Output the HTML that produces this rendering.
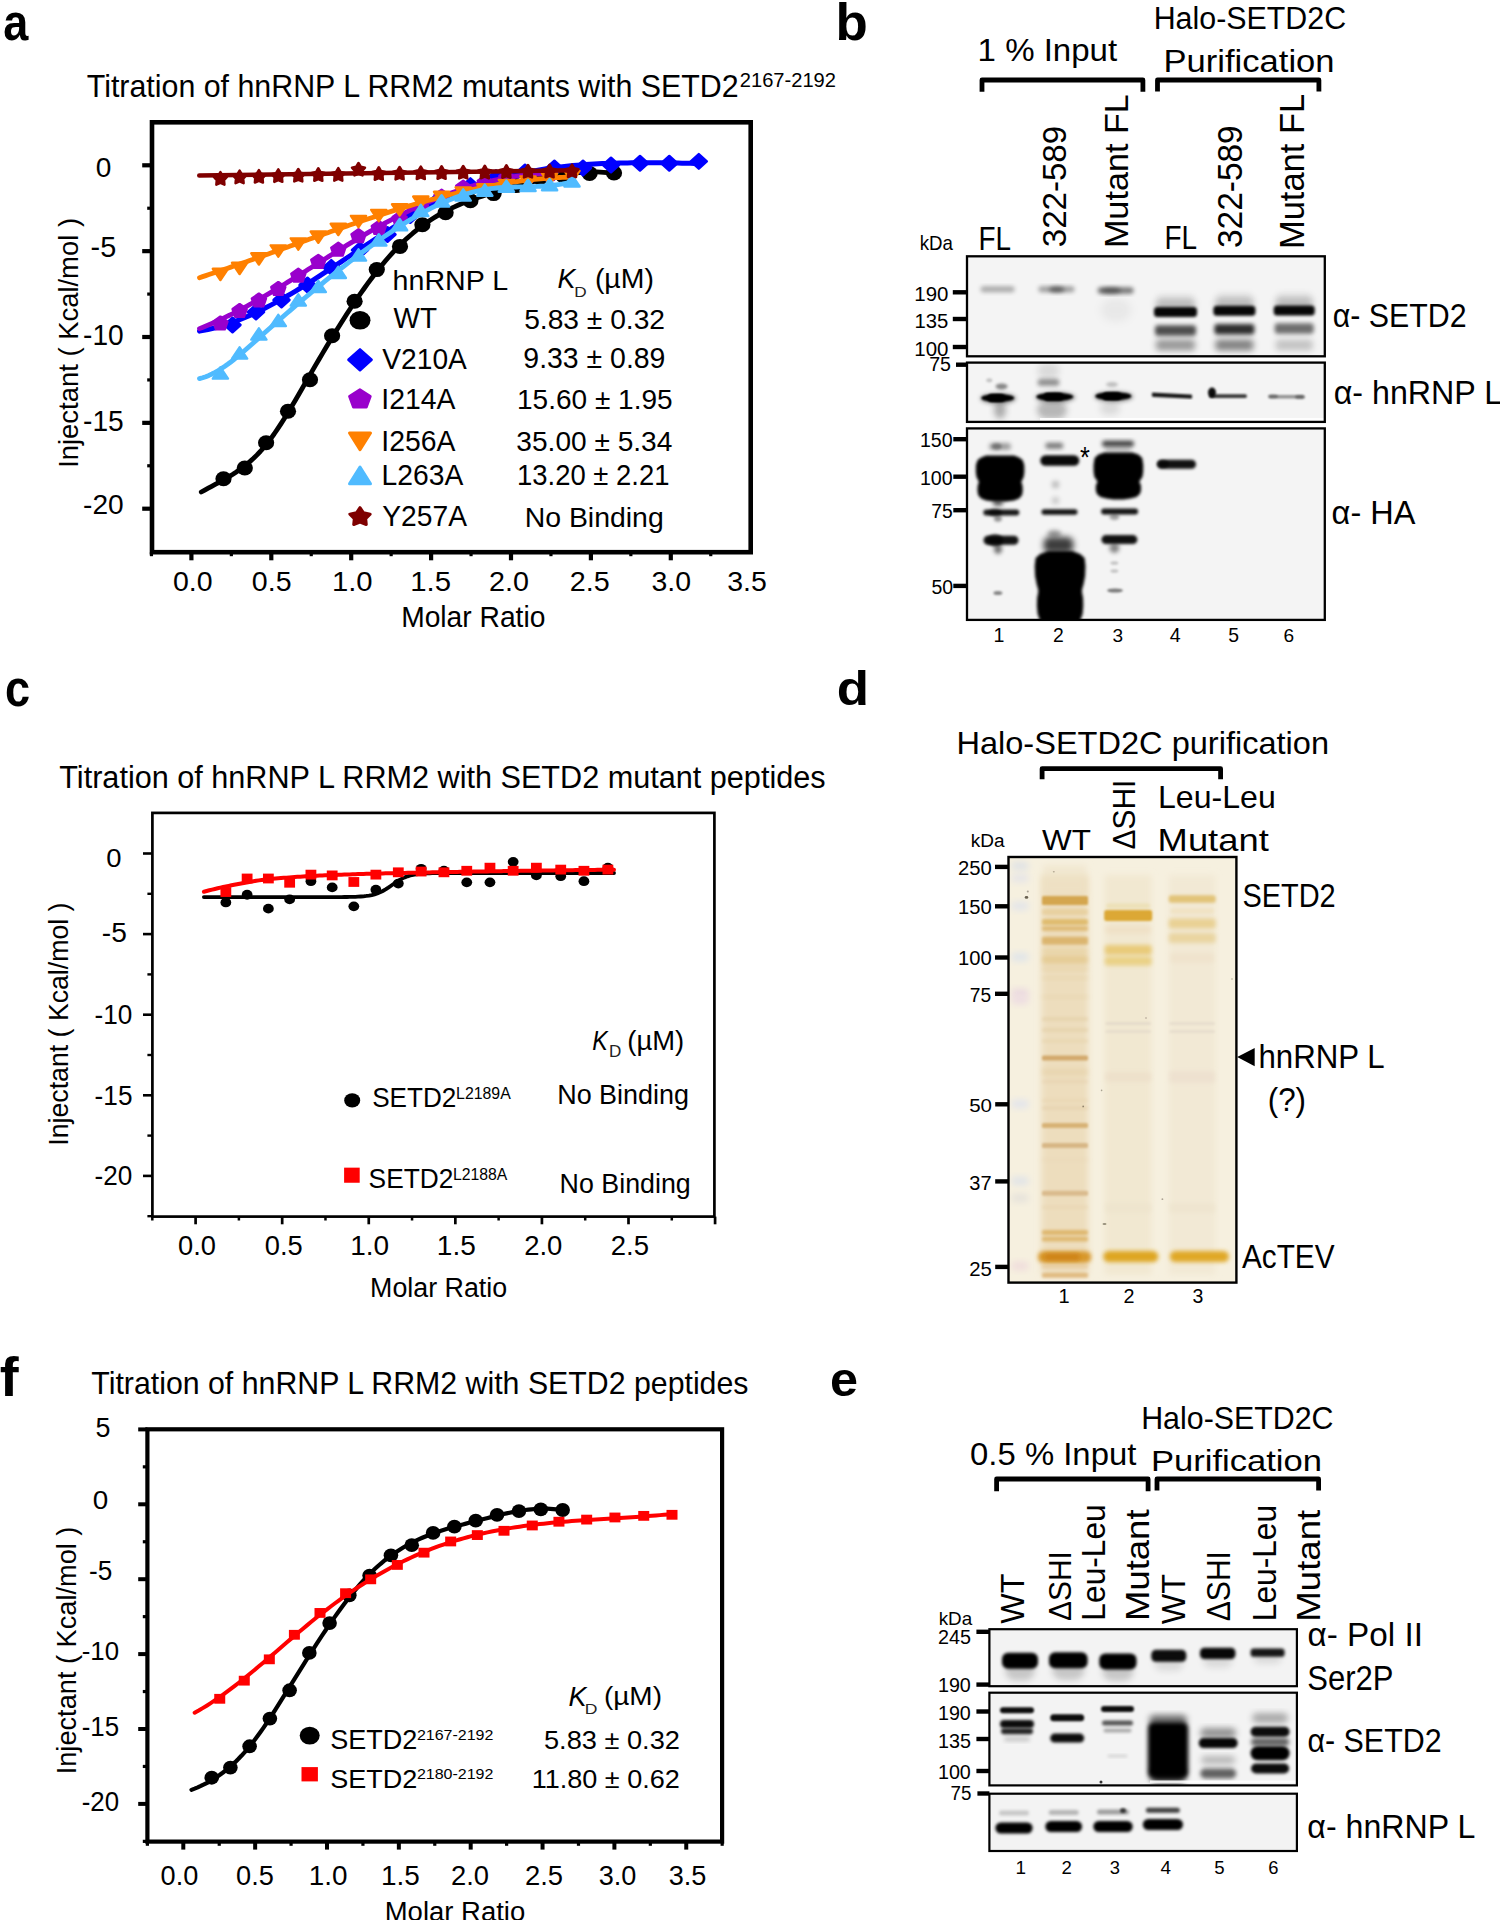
<!DOCTYPE html>
<html><head><meta charset="utf-8"><title>Figure</title>
<style>
html,body{margin:0;padding:0;background:#fff;width:1500px;height:1920px;overflow:hidden;}
svg{display:block;font-family:"Liberation Sans", sans-serif;}
</style></head><body>
<svg width="1500" height="1920" viewBox="0 0 1500 1920">
<defs>
<filter id="b05" x="-50%" y="-50%" width="200%" height="200%"><feGaussianBlur stdDeviation="0.5"/></filter>
<filter id="b1" x="-50%" y="-50%" width="200%" height="200%"><feGaussianBlur stdDeviation="1"/></filter>
<filter id="b15" x="-50%" y="-50%" width="200%" height="200%"><feGaussianBlur stdDeviation="1.5"/></filter>
<filter id="b2" x="-50%" y="-50%" width="200%" height="200%"><feGaussianBlur stdDeviation="2"/></filter>
<filter id="b3" x="-50%" y="-50%" width="200%" height="200%"><feGaussianBlur stdDeviation="3"/></filter>
<filter id="b4" x="-50%" y="-50%" width="200%" height="200%"><feGaussianBlur stdDeviation="4"/></filter>
<filter id="b6" x="-50%" y="-50%" width="200%" height="200%"><feGaussianBlur stdDeviation="6"/></filter>
<filter id="b8" x="-50%" y="-50%" width="200%" height="200%"><feGaussianBlur stdDeviation="8"/></filter>
</defs>
<rect x="0" y="0" width="1500" height="1920" fill="#fff"/>
<text x="3.15" y="40.28" font-size="51.69" font-weight="bold" textLength="25.07" lengthAdjust="spacingAndGlyphs">a</text>
<text x="86.72" y="96.8" font-size="31.71" textLength="651.95" lengthAdjust="spacingAndGlyphs">Titration of hnRNP L RRM2 mutants with SETD2</text>
<text x="739.79" y="86.5" font-size="20.35" textLength="96.16" lengthAdjust="spacingAndGlyphs">2167-2192</text>
<rect x="152" y="122.3" width="598.7" height="429.9" fill="none" stroke="#000" stroke-width="4.6"/>
<line x1="142.2" y1="165.3" x2="152" y2="165.3" stroke="#000" stroke-width="4.2" stroke-linecap="butt"/>
<line x1="142.2" y1="251.15" x2="152" y2="251.15" stroke="#000" stroke-width="4.2" stroke-linecap="butt"/>
<line x1="142.2" y1="337" x2="152" y2="337" stroke="#000" stroke-width="4.2" stroke-linecap="butt"/>
<line x1="142.2" y1="422.85" x2="152" y2="422.85" stroke="#000" stroke-width="4.2" stroke-linecap="butt"/>
<line x1="142.2" y1="508.7" x2="152" y2="508.7" stroke="#000" stroke-width="4.2" stroke-linecap="butt"/>
<line x1="147.2" y1="208.23" x2="152" y2="208.23" stroke="#000" stroke-width="3.2" stroke-linecap="butt"/>
<line x1="147.2" y1="294.08" x2="152" y2="294.08" stroke="#000" stroke-width="3.2" stroke-linecap="butt"/>
<line x1="147.2" y1="379.93" x2="152" y2="379.93" stroke="#000" stroke-width="3.2" stroke-linecap="butt"/>
<line x1="147.2" y1="465.78" x2="152" y2="465.78" stroke="#000" stroke-width="3.2" stroke-linecap="butt"/>
<text x="95.78" y="177.22" font-size="28.27" textLength="15.61" lengthAdjust="spacingAndGlyphs">0</text>
<text x="90.6" y="256.61" font-size="28.67" textLength="25.6" lengthAdjust="spacingAndGlyphs">-5</text>
<text x="83.04" y="345.41" font-size="29.4" textLength="40.63" lengthAdjust="spacingAndGlyphs">-10</text>
<text x="83.03" y="430.71" font-size="28.96" textLength="40.7" lengthAdjust="spacingAndGlyphs">-15</text>
<text x="83.04" y="513.81" font-size="28.55" textLength="40.63" lengthAdjust="spacingAndGlyphs">-20</text>
<line x1="191.4" y1="552.2" x2="191.4" y2="560.3" stroke="#000" stroke-width="4.2" stroke-linecap="butt"/>
<line x1="271.3" y1="552.2" x2="271.3" y2="560.3" stroke="#000" stroke-width="4.2" stroke-linecap="butt"/>
<line x1="351.2" y1="552.2" x2="351.2" y2="560.3" stroke="#000" stroke-width="4.2" stroke-linecap="butt"/>
<line x1="431.1" y1="552.2" x2="431.1" y2="560.3" stroke="#000" stroke-width="4.2" stroke-linecap="butt"/>
<line x1="511" y1="552.2" x2="511" y2="560.3" stroke="#000" stroke-width="4.2" stroke-linecap="butt"/>
<line x1="590.9" y1="552.2" x2="590.9" y2="560.3" stroke="#000" stroke-width="4.2" stroke-linecap="butt"/>
<line x1="670.8" y1="552.2" x2="670.8" y2="560.3" stroke="#000" stroke-width="4.2" stroke-linecap="butt"/>
<line x1="151.45" y1="552.2" x2="151.45" y2="556.2" stroke="#000" stroke-width="3.2" stroke-linecap="butt"/>
<line x1="231.35" y1="552.2" x2="231.35" y2="556.2" stroke="#000" stroke-width="3.2" stroke-linecap="butt"/>
<line x1="311.25" y1="552.2" x2="311.25" y2="556.2" stroke="#000" stroke-width="3.2" stroke-linecap="butt"/>
<line x1="391.15" y1="552.2" x2="391.15" y2="556.2" stroke="#000" stroke-width="3.2" stroke-linecap="butt"/>
<line x1="471.05" y1="552.2" x2="471.05" y2="556.2" stroke="#000" stroke-width="3.2" stroke-linecap="butt"/>
<line x1="550.95" y1="552.2" x2="550.95" y2="556.2" stroke="#000" stroke-width="3.2" stroke-linecap="butt"/>
<line x1="630.85" y1="552.2" x2="630.85" y2="556.2" stroke="#000" stroke-width="3.2" stroke-linecap="butt"/>
<line x1="710.75" y1="552.2" x2="710.75" y2="556.2" stroke="#000" stroke-width="3.2" stroke-linecap="butt"/>
<text x="172.96" y="591.12" font-size="27.56" textLength="39.61" lengthAdjust="spacingAndGlyphs">0.0</text>
<text x="251.86" y="591.12" font-size="27.56" textLength="39.69" lengthAdjust="spacingAndGlyphs">0.5</text>
<text x="331.9" y="591.12" font-size="27.56" textLength="40.7" lengthAdjust="spacingAndGlyphs">1.0</text>
<text x="410.3" y="591.12" font-size="27.96" textLength="40.78" lengthAdjust="spacingAndGlyphs">1.5</text>
<text x="489.06" y="591.12" font-size="27.56" textLength="39.92" lengthAdjust="spacingAndGlyphs">2.0</text>
<text x="569.86" y="591.12" font-size="27.56" textLength="39.99" lengthAdjust="spacingAndGlyphs">2.5</text>
<text x="651.53" y="591.12" font-size="27.56" textLength="39.54" lengthAdjust="spacingAndGlyphs">3.0</text>
<text x="727.23" y="591.12" font-size="27.56" textLength="39.61" lengthAdjust="spacingAndGlyphs">3.5</text>
<text x="401.17" y="626.5" font-size="29.53" textLength="144.27" lengthAdjust="spacingAndGlyphs">Molar Ratio</text>
<text x="77.67" y="467.84" font-size="28.1" textLength="249.87" lengthAdjust="spacingAndGlyphs" transform="rotate(-90 77.67 467.84)">Injectant ( Kcal/mol )</text>
<path d="M201.3 491.99 L204.77 490.04 L208.24 488.14 L211.7 486.27 L215.17 484.41 L218.64 482.53 L222.11 480.62 L225.58 478.65 L229.04 476.61 L232.51 474.47 L235.98 472.22 L239.45 469.83 L242.92 467.28 L246.38 464.55 L249.85 461.63 L253.32 458.49 L256.79 455.11 L260.26 451.47 L263.73 447.55 L267.19 443.33 L270.66 438.81 L274.13 434.01 L277.6 428.96 L281.07 423.69 L284.53 418.22 L288 412.59 L291.47 406.82 L294.94 400.94 L298.41 394.98 L301.87 388.96 L305.34 382.92 L308.81 376.88 L312.28 370.87 L315.75 364.9 L319.21 358.97 L322.68 353.1 L326.15 347.28 L329.62 341.52 L333.09 335.83 L336.55 330.2 L340.02 324.65 L343.49 319.18 L346.96 313.79 L350.43 308.49 L353.89 303.28 L357.36 298.17 L360.83 293.16 L364.3 288.26 L367.77 283.46 L371.24 278.79 L374.7 274.23 L378.17 269.79 L381.64 265.49 L385.11 261.31 L388.58 257.28 L392.04 253.39 L395.51 249.65 L398.98 246.05 L402.45 242.62 L405.92 239.33 L409.38 236.2 L412.85 233.21 L416.32 230.36 L419.79 227.65 L423.26 225.06 L426.72 222.6 L430.19 220.26 L433.66 218.04 L437.13 215.92 L440.6 213.91 L444.06 212 L447.53 210.18 L451 208.46 L454.47 206.82 L457.94 205.26 L461.41 203.78 L464.87 202.36 L468.34 201.01 L471.81 199.73 L475.28 198.49 L478.75 197.31 L482.21 196.18 L485.68 195.08 L489.15 194.03 L492.62 193 L496.09 192 L499.55 191.02 L503.02 190.06 L506.49 189.1 L509.96 188.16 L513.43 187.22 L516.89 186.27 L520.36 185.32 L523.83 184.36 L527.3 183.41 L530.77 182.47 L534.23 181.54 L537.7 180.62 L541.17 179.73 L544.64 178.86 L548.11 178.02 L551.57 177.22 L555.04 176.46 L558.51 175.73 L561.98 175.06 L565.45 174.44 L568.92 173.87 L572.38 173.37 L575.85 172.93 L579.32 172.56 L582.79 172.27 L586.26 172.05 L589.72 171.92 L593.19 171.88 L596.66 171.93 L600.13 172.07 L603.6 172.32 L607.06 172.67 L610.53 173.14 L614 173.72" fill="none" stroke="#000000" stroke-width="4.8" stroke-linejoin="round" stroke-linecap="round"/>
<ellipse cx="223.5" cy="478.7" rx="8.1" ry="7.5" fill="#000000"/>
<ellipse cx="244.8" cy="468" rx="8.1" ry="7.5" fill="#000000"/>
<ellipse cx="266.1" cy="442.7" rx="8.1" ry="7.5" fill="#000000"/>
<ellipse cx="288" cy="411.2" rx="8.1" ry="7.5" fill="#000000"/>
<ellipse cx="310" cy="379.7" rx="8.1" ry="7.5" fill="#000000"/>
<ellipse cx="332.1" cy="335.8" rx="8.1" ry="7.5" fill="#000000"/>
<ellipse cx="354.6" cy="301.2" rx="8.1" ry="7.5" fill="#000000"/>
<ellipse cx="376.8" cy="269.6" rx="8.1" ry="7.5" fill="#000000"/>
<ellipse cx="400" cy="246.4" rx="8.1" ry="7.5" fill="#000000"/>
<ellipse cx="422.4" cy="224.8" rx="8.1" ry="7.5" fill="#000000"/>
<ellipse cx="445.6" cy="212.8" rx="8.1" ry="7.5" fill="#000000"/>
<ellipse cx="470.4" cy="200.8" rx="8.1" ry="7.5" fill="#000000"/>
<ellipse cx="493.6" cy="193.6" rx="8.1" ry="7.5" fill="#000000"/>
<ellipse cx="516" cy="185.6" rx="8.1" ry="7.5" fill="#000000"/>
<ellipse cx="540" cy="177.6" rx="8.1" ry="7.5" fill="#000000"/>
<ellipse cx="563.2" cy="175.6" rx="8.1" ry="7.5" fill="#000000"/>
<ellipse cx="589.6" cy="173.5" rx="8.1" ry="7.5" fill="#000000"/>
<ellipse cx="614" cy="173" rx="8.1" ry="7.5" fill="#000000"/>
<path d="M199.5 331.1 L203.7 330.37 L207.89 329.51 L212.09 328.55 L216.28 327.48 L220.48 326.3 L224.67 325.02 L228.87 323.64 L233.07 322.16 L237.26 320.6 L241.46 318.94 L245.65 317.2 L249.85 315.37 L254.05 313.47 L258.24 311.49 L262.44 309.43 L266.63 307.31 L270.83 305.12 L275.02 302.87 L279.22 300.56 L283.42 298.2 L287.61 295.78 L291.81 293.31 L296 290.8 L300.2 288.25 L304.39 285.65 L308.59 283.02 L312.79 280.36 L316.98 277.66 L321.18 274.94 L325.37 272.2 L329.57 269.44 L333.77 266.66 L337.96 263.87 L342.16 261.07 L346.35 258.27 L350.55 255.46 L354.74 252.65 L358.94 249.84 L363.14 247.05 L367.33 244.26 L371.53 241.49 L375.72 238.73 L379.92 235.99 L384.12 233.28 L388.31 230.6 L392.51 227.94 L396.7 225.32 L400.9 222.73 L405.09 220.19 L409.29 217.69 L413.49 215.24 L417.68 212.83 L421.88 210.48 L426.07 208.19 L430.27 205.95 L434.46 203.79 L438.66 201.68 L442.86 199.65 L447.05 197.69 L451.25 195.79 L455.44 193.97 L459.64 192.21 L463.84 190.51 L468.03 188.89 L472.23 187.32 L476.42 185.82 L480.62 184.37 L484.81 182.99 L489.01 181.66 L493.21 180.4 L497.4 179.18 L501.6 178.03 L505.79 176.92 L509.99 175.87 L514.18 174.87 L518.38 173.92 L522.58 173.02 L526.77 172.17 L530.97 171.36 L535.16 170.6 L539.36 169.88 L543.56 169.21 L547.75 168.57 L551.95 167.98 L556.14 167.43 L560.34 166.91 L564.53 166.44 L568.73 165.99 L572.93 165.59 L577.12 165.21 L581.32 164.87 L585.51 164.56 L589.71 164.27 L593.91 164.02 L598.1 163.79 L602.3 163.59 L606.49 163.42 L610.69 163.27 L614.88 163.14 L619.08 163.03 L623.28 162.95 L627.47 162.88 L631.67 162.83 L635.86 162.79 L640.06 162.78 L644.25 162.77 L648.45 162.78 L652.65 162.8 L656.84 162.83 L661.04 162.87 L665.23 162.92 L669.43 162.98 L673.63 163.04 L677.82 163.11 L682.02 163.18 L686.21 163.25 L690.41 163.32 L694.6 163.4 L698.8 163.47" fill="none" stroke="#0000ff" stroke-width="5" stroke-linejoin="round" stroke-linecap="round"/>
<path d="M232.5 317.75 L240.5 325 L232.5 332.25 L224.5 325 Z" fill="#0000ff" stroke="#0000ff" stroke-width="2.5" stroke-linejoin="round"/>
<path d="M256 304.75 L264 312 L256 319.25 L248 312 Z" fill="#0000ff" stroke="#0000ff" stroke-width="2.5" stroke-linejoin="round"/>
<path d="M281.5 292.75 L289.5 300 L281.5 307.25 L273.5 300 Z" fill="#0000ff" stroke="#0000ff" stroke-width="2.5" stroke-linejoin="round"/>
<path d="M307.5 277.75 L315.5 285 L307.5 292.25 L299.5 285 Z" fill="#0000ff" stroke="#0000ff" stroke-width="2.5" stroke-linejoin="round"/>
<path d="M331.3 260.15 L339.3 267.4 L331.3 274.65 L323.3 267.4 Z" fill="#0000ff" stroke="#0000ff" stroke-width="2.5" stroke-linejoin="round"/>
<path d="M360 242.75 L368 250 L360 257.25 L352 250 Z" fill="#0000ff" stroke="#0000ff" stroke-width="2.5" stroke-linejoin="round"/>
<path d="M387.5 227.25 L395.5 234.5 L387.5 241.75 L379.5 234.5 Z" fill="#0000ff" stroke="#0000ff" stroke-width="2.5" stroke-linejoin="round"/>
<path d="M410.3 208.25 L418.3 215.5 L410.3 222.75 L402.3 215.5 Z" fill="#0000ff" stroke="#0000ff" stroke-width="2.5" stroke-linejoin="round"/>
<path d="M440 191.25 L448 198.5 L440 205.75 L432 198.5 Z" fill="#0000ff" stroke="#0000ff" stroke-width="2.5" stroke-linejoin="round"/>
<path d="M470.4 178.35 L478.4 185.6 L470.4 192.85 L462.4 185.6 Z" fill="#0000ff" stroke="#0000ff" stroke-width="2.5" stroke-linejoin="round"/>
<path d="M496 170.35 L504 177.6 L496 184.85 L488 177.6 Z" fill="#0000ff" stroke="#0000ff" stroke-width="2.5" stroke-linejoin="round"/>
<path d="M525 164.75 L533 172 L525 179.25 L517 172 Z" fill="#0000ff" stroke="#0000ff" stroke-width="2.5" stroke-linejoin="round"/>
<path d="M554.4 160.75 L562.4 168 L554.4 175.25 L546.4 168 Z" fill="#0000ff" stroke="#0000ff" stroke-width="2.5" stroke-linejoin="round"/>
<path d="M583 160.75 L591 168 L583 175.25 L575 168 Z" fill="#0000ff" stroke="#0000ff" stroke-width="2.5" stroke-linejoin="round"/>
<path d="M611 157.75 L619 165 L611 172.25 L603 165 Z" fill="#0000ff" stroke="#0000ff" stroke-width="2.5" stroke-linejoin="round"/>
<path d="M640 156.05 L648 163.3 L640 170.55 L632 163.3 Z" fill="#0000ff" stroke="#0000ff" stroke-width="2.5" stroke-linejoin="round"/>
<path d="M669.3 156.05 L677.3 163.3 L669.3 170.55 L661.3 163.3 Z" fill="#0000ff" stroke="#0000ff" stroke-width="2.5" stroke-linejoin="round"/>
<path d="M698.8 154.15 L706.8 161.4 L698.8 168.65 L690.8 161.4 Z" fill="#0000ff" stroke="#0000ff" stroke-width="2.5" stroke-linejoin="round"/>
<path d="M199.5 328.61 L202.44 327.45 L205.38 326.25 L208.33 325.01 L211.27 323.75 L214.21 322.45 L217.15 321.12 L220.09 319.76 L223.04 318.37 L225.98 316.95 L228.92 315.5 L231.86 314.03 L234.8 312.53 L237.75 311 L240.69 309.45 L243.63 307.88 L246.57 306.29 L249.51 304.67 L252.46 303.04 L255.4 301.38 L258.34 299.71 L261.28 298.02 L264.22 296.31 L267.17 294.59 L270.11 292.85 L273.05 291.09 L275.99 289.33 L278.93 287.55 L281.88 285.76 L284.82 283.96 L287.76 282.15 L290.7 280.34 L293.64 278.51 L296.59 276.68 L299.53 274.84 L302.47 273 L305.41 271.16 L308.35 269.31 L311.3 267.46 L314.24 265.6 L317.18 263.75 L320.12 261.9 L323.06 260.05 L326.01 258.2 L328.95 256.36 L331.89 254.52 L334.83 252.69 L337.77 250.86 L340.72 249.04 L343.66 247.22 L346.6 245.42 L349.54 243.63 L352.48 241.84 L355.43 240.07 L358.37 238.31 L361.31 236.57 L364.25 234.83 L367.19 233.12 L370.14 231.42 L373.08 229.74 L376.02 228.07 L378.96 226.43 L381.91 224.8 L384.85 223.19 L387.79 221.61 L390.73 220.05 L393.67 218.5 L396.62 216.98 L399.56 215.48 L402.5 214 L405.44 212.54 L408.38 211.11 L411.33 209.7 L414.27 208.31 L417.21 206.94 L420.15 205.6 L423.09 204.28 L426.04 202.98 L428.98 201.71 L431.92 200.46 L434.86 199.24 L437.8 198.04 L440.75 196.87 L443.69 195.72 L446.63 194.6 L449.57 193.51 L452.51 192.44 L455.46 191.4 L458.4 190.38 L461.34 189.39 L464.28 188.43 L467.22 187.5 L470.17 186.59 L473.11 185.72 L476.05 184.87 L478.99 184.05 L481.93 183.25 L484.88 182.49 L487.82 181.76 L490.76 181.06 L493.7 180.38 L496.64 179.74 L499.59 179.13 L502.53 178.55 L505.47 178 L508.41 177.48 L511.35 176.99 L514.3 176.53 L517.24 176.11 L520.18 175.72 L523.12 175.36 L526.06 175.03 L529.01 174.74 L531.95 174.48 L534.89 174.25 L537.83 174.06 L540.77 173.91 L543.72 173.78 L546.66 173.69 L549.6 173.64" fill="none" stroke="#9900cc" stroke-width="4.8" stroke-linejoin="round" stroke-linecap="round"/>
<path d="M220.4 316.65 L227.4 321.5 L224.73 329.35 L216.07 329.35 L213.4 321.5 Z" fill="#9900cc" stroke="#9900cc" stroke-width="2.5" stroke-linejoin="round"/>
<path d="M239.6 304.15 L246.6 309 L243.93 316.85 L235.27 316.85 L232.6 309 Z" fill="#9900cc" stroke="#9900cc" stroke-width="2.5" stroke-linejoin="round"/>
<path d="M258.9 293.65 L265.9 298.5 L263.23 306.35 L254.57 306.35 L251.9 298.5 Z" fill="#9900cc" stroke="#9900cc" stroke-width="2.5" stroke-linejoin="round"/>
<path d="M278.3 282.15 L285.3 287 L282.63 294.85 L273.97 294.85 L271.3 287 Z" fill="#9900cc" stroke="#9900cc" stroke-width="2.5" stroke-linejoin="round"/>
<path d="M298.3 268.85 L305.3 273.7 L302.63 281.55 L293.97 281.55 L291.3 273.7 Z" fill="#9900cc" stroke="#9900cc" stroke-width="2.5" stroke-linejoin="round"/>
<path d="M318.3 254.95 L325.3 259.8 L322.63 267.65 L313.97 267.65 L311.3 259.8 Z" fill="#9900cc" stroke="#9900cc" stroke-width="2.5" stroke-linejoin="round"/>
<path d="M338.3 242.85 L345.3 247.7 L342.63 255.55 L333.97 255.55 L331.3 247.7 Z" fill="#9900cc" stroke="#9900cc" stroke-width="2.5" stroke-linejoin="round"/>
<path d="M358.5 229.35 L365.5 234.2 L362.83 242.05 L354.17 242.05 L351.5 234.2 Z" fill="#9900cc" stroke="#9900cc" stroke-width="2.5" stroke-linejoin="round"/>
<path d="M378.8 221.15 L385.8 226 L383.13 233.85 L374.47 233.85 L371.8 226 Z" fill="#9900cc" stroke="#9900cc" stroke-width="2.5" stroke-linejoin="round"/>
<path d="M399.6 212.15 L406.6 217 L403.93 224.85 L395.27 224.85 L392.6 217 Z" fill="#9900cc" stroke="#9900cc" stroke-width="2.5" stroke-linejoin="round"/>
<path d="M420.8 200.65 L427.8 205.5 L425.13 213.35 L416.47 213.35 L413.8 205.5 Z" fill="#9900cc" stroke="#9900cc" stroke-width="2.5" stroke-linejoin="round"/>
<path d="M441.6 189.85 L448.6 194.7 L445.93 202.55 L437.27 202.55 L434.6 194.7 Z" fill="#9900cc" stroke="#9900cc" stroke-width="2.5" stroke-linejoin="round"/>
<path d="M463.2 180.85 L470.2 185.7 L467.53 193.55 L458.87 193.55 L456.2 185.7 Z" fill="#9900cc" stroke="#9900cc" stroke-width="2.5" stroke-linejoin="round"/>
<path d="M484.8 176.05 L491.8 180.9 L489.13 188.75 L480.47 188.75 L477.8 180.9 Z" fill="#9900cc" stroke="#9900cc" stroke-width="2.5" stroke-linejoin="round"/>
<path d="M506.4 171.25 L513.4 176.1 L510.73 183.95 L502.07 183.95 L499.4 176.1 Z" fill="#9900cc" stroke="#9900cc" stroke-width="2.5" stroke-linejoin="round"/>
<path d="M528 168.85 L535 173.7 L532.33 181.55 L523.67 181.55 L521 173.7 Z" fill="#9900cc" stroke="#9900cc" stroke-width="2.5" stroke-linejoin="round"/>
<path d="M549.6 167.25 L556.6 172.1 L553.93 179.95 L545.27 179.95 L542.6 172.1 Z" fill="#9900cc" stroke="#9900cc" stroke-width="2.5" stroke-linejoin="round"/>
<path d="M199.5 277.67 L202.63 276.64 L205.76 275.61 L208.89 274.57 L212.02 273.52 L215.15 272.47 L218.28 271.41 L221.41 270.35 L224.54 269.28 L227.67 268.21 L230.8 267.13 L233.93 266.04 L237.06 264.96 L240.19 263.86 L243.32 262.77 L246.45 261.67 L249.58 260.57 L252.71 259.46 L255.84 258.35 L258.97 257.24 L262.11 256.13 L265.24 255.01 L268.37 253.89 L271.5 252.77 L274.63 251.65 L277.76 250.53 L280.89 249.41 L284.02 248.29 L287.15 247.17 L290.28 246.04 L293.41 244.92 L296.54 243.8 L299.67 242.68 L302.8 241.56 L305.93 240.44 L309.06 239.32 L312.19 238.2 L315.32 237.09 L318.45 235.98 L321.58 234.87 L324.71 233.76 L327.84 232.66 L330.97 231.56 L334.1 230.47 L337.23 229.37 L340.36 228.29 L343.49 227.2 L346.62 226.12 L349.75 225.05 L352.88 223.98 L356.01 222.91 L359.14 221.86 L362.27 220.8 L365.4 219.76 L368.53 218.72 L371.66 217.68 L374.79 216.66 L377.92 215.64 L381.05 214.63 L384.18 213.62 L387.32 212.63 L390.45 211.64 L393.58 210.66 L396.71 209.69 L399.84 208.73 L402.97 207.77 L406.1 206.83 L409.23 205.9 L412.36 204.97 L415.49 204.06 L418.62 203.16 L421.75 202.26 L424.88 201.38 L428.01 200.51 L431.14 199.65 L434.27 198.81 L437.4 197.97 L440.53 197.15 L443.66 196.34 L446.79 195.54 L449.92 194.76 L453.05 193.99 L456.18 193.23 L459.31 192.49 L462.44 191.76 L465.57 191.04 L468.7 190.34 L471.83 189.65 L474.96 188.98 L478.09 188.33 L481.22 187.69 L484.35 187.06 L487.48 186.45 L490.61 185.86 L493.74 185.29 L496.87 184.73 L500 184.19 L503.13 183.66 L506.26 183.16 L509.39 182.67 L512.53 182.2 L515.66 181.75 L518.79 181.32 L521.92 180.9 L525.05 180.51 L528.18 180.13 L531.31 179.77 L534.44 179.44 L537.57 179.12 L540.7 178.83 L543.83 178.55 L546.96 178.3 L550.09 178.07 L553.22 177.85 L556.35 177.66 L559.48 177.5 L562.61 177.35 L565.74 177.23 L568.87 177.13 L572 177.05" fill="none" stroke="#ff8000" stroke-width="4.8" stroke-linejoin="round" stroke-linecap="round"/>
<path d="M212.85 268.8 L227.95 268.8 L220.4 280 Z" fill="#ff8000" stroke="#ff8000" stroke-width="2.5" stroke-linejoin="round"/>
<path d="M232.05 262.8 L247.15 262.8 L239.6 274 Z" fill="#ff8000" stroke="#ff8000" stroke-width="2.5" stroke-linejoin="round"/>
<path d="M251.35 253.3 L266.45 253.3 L258.9 264.5 Z" fill="#ff8000" stroke="#ff8000" stroke-width="2.5" stroke-linejoin="round"/>
<path d="M270.75 245.4 L285.85 245.4 L278.3 256.6 Z" fill="#ff8000" stroke="#ff8000" stroke-width="2.5" stroke-linejoin="round"/>
<path d="M290.75 238.4 L305.85 238.4 L298.3 249.6 Z" fill="#ff8000" stroke="#ff8000" stroke-width="2.5" stroke-linejoin="round"/>
<path d="M310.75 231.6 L325.85 231.6 L318.3 242.8 Z" fill="#ff8000" stroke="#ff8000" stroke-width="2.5" stroke-linejoin="round"/>
<path d="M330.75 223.8 L345.85 223.8 L338.3 235 Z" fill="#ff8000" stroke="#ff8000" stroke-width="2.5" stroke-linejoin="round"/>
<path d="M350.95 215.9 L366.05 215.9 L358.5 227.1 Z" fill="#ff8000" stroke="#ff8000" stroke-width="2.5" stroke-linejoin="round"/>
<path d="M371.25 209.9 L386.35 209.9 L378.8 221.1 Z" fill="#ff8000" stroke="#ff8000" stroke-width="2.5" stroke-linejoin="round"/>
<path d="M392.05 204.2 L407.15 204.2 L399.6 215.4 Z" fill="#ff8000" stroke="#ff8000" stroke-width="2.5" stroke-linejoin="round"/>
<path d="M413.25 196.6 L428.35 196.6 L420.8 207.8 Z" fill="#ff8000" stroke="#ff8000" stroke-width="2.5" stroke-linejoin="round"/>
<path d="M434.05 191.7 L449.15 191.7 L441.6 202.9 Z" fill="#ff8000" stroke="#ff8000" stroke-width="2.5" stroke-linejoin="round"/>
<path d="M455.65 187.4 L470.75 187.4 L463.2 198.6 Z" fill="#ff8000" stroke="#ff8000" stroke-width="2.5" stroke-linejoin="round"/>
<path d="M477.25 184.2 L492.35 184.2 L484.8 195.4 Z" fill="#ff8000" stroke="#ff8000" stroke-width="2.5" stroke-linejoin="round"/>
<path d="M498.85 179.9 L513.95 179.9 L506.4 191.1 Z" fill="#ff8000" stroke="#ff8000" stroke-width="2.5" stroke-linejoin="round"/>
<path d="M520.45 176.4 L535.55 176.4 L528 187.6 Z" fill="#ff8000" stroke="#ff8000" stroke-width="2.5" stroke-linejoin="round"/>
<path d="M542.05 173.4 L557.15 173.4 L549.6 184.6 Z" fill="#ff8000" stroke="#ff8000" stroke-width="2.5" stroke-linejoin="round"/>
<path d="M564.45 170.9 L579.55 170.9 L572 182.1 Z" fill="#ff8000" stroke="#ff8000" stroke-width="2.5" stroke-linejoin="round"/>
<path d="M199.5 378.58 L202.63 377.74 L205.76 376.68 L208.89 375.42 L212.02 373.97 L215.15 372.34 L218.28 370.55 L221.41 368.6 L224.54 366.51 L227.67 364.29 L230.8 361.96 L233.93 359.53 L237.06 357 L240.19 354.4 L243.32 351.73 L246.45 349.01 L249.58 346.25 L252.71 343.46 L255.84 340.65 L258.97 337.85 L262.11 335.05 L265.24 332.26 L268.37 329.48 L271.5 326.71 L274.63 323.95 L277.76 321.21 L280.89 318.47 L284.02 315.75 L287.15 313.03 L290.28 310.33 L293.41 307.64 L296.54 304.96 L299.67 302.3 L302.8 299.65 L305.93 297.01 L309.06 294.38 L312.19 291.77 L315.32 289.18 L318.45 286.59 L321.58 284.03 L324.71 281.48 L327.84 278.94 L330.97 276.43 L334.1 273.93 L337.23 271.45 L340.36 268.98 L343.49 266.54 L346.62 264.11 L349.75 261.7 L352.88 259.32 L356.01 256.95 L359.14 254.6 L362.27 252.28 L365.4 249.98 L368.53 247.7 L371.66 245.44 L374.79 243.2 L377.92 240.99 L381.05 238.8 L384.18 236.64 L387.32 234.5 L390.45 232.4 L393.58 230.32 L396.71 228.27 L399.84 226.26 L402.97 224.27 L406.1 222.33 L409.23 220.42 L412.36 218.55 L415.49 216.72 L418.62 214.93 L421.75 213.19 L424.88 211.49 L428.01 209.83 L431.14 208.23 L434.27 206.67 L437.4 205.16 L440.53 203.7 L443.66 202.3 L446.79 200.95 L449.92 199.66 L453.05 198.43 L456.18 197.26 L459.31 196.14 L462.44 195.09 L465.57 194.11 L468.7 193.19 L471.83 192.33 L474.96 191.54 L478.09 190.83 L481.22 190.18 L484.35 189.61 L487.48 189.11 L490.61 188.68 L493.74 188.32 L496.87 188.01 L500 187.75 L503.13 187.54 L506.26 187.36 L509.39 187.22 L512.53 187.11 L515.66 187.01 L518.79 186.93 L521.92 186.86 L525.05 186.79 L528.18 186.72 L531.31 186.63 L534.44 186.54 L537.57 186.41 L540.7 186.27 L543.83 186.08 L546.96 185.86 L550.09 185.59 L553.22 185.26 L556.35 184.88 L559.48 184.44 L562.61 183.92 L565.74 183.32 L568.87 182.65 L572 181.88" fill="none" stroke="#50bbff" stroke-width="4.8" stroke-linejoin="round" stroke-linecap="round"/>
<path d="M212.85 378.6 L227.95 378.6 L220.4 367.4 Z" fill="#50bbff" stroke="#50bbff" stroke-width="2.5" stroke-linejoin="round"/>
<path d="M232.05 358.6 L247.15 358.6 L239.6 347.4 Z" fill="#50bbff" stroke="#50bbff" stroke-width="2.5" stroke-linejoin="round"/>
<path d="M251.35 339.6 L266.45 339.6 L258.9 328.4 Z" fill="#50bbff" stroke="#50bbff" stroke-width="2.5" stroke-linejoin="round"/>
<path d="M270.75 326.1 L285.85 326.1 L278.3 314.9 Z" fill="#50bbff" stroke="#50bbff" stroke-width="2.5" stroke-linejoin="round"/>
<path d="M290.75 305.6 L305.85 305.6 L298.3 294.4 Z" fill="#50bbff" stroke="#50bbff" stroke-width="2.5" stroke-linejoin="round"/>
<path d="M310.75 292.1 L325.85 292.1 L318.3 280.9 Z" fill="#50bbff" stroke="#50bbff" stroke-width="2.5" stroke-linejoin="round"/>
<path d="M330.75 278 L345.85 278 L338.3 266.8 Z" fill="#50bbff" stroke="#50bbff" stroke-width="2.5" stroke-linejoin="round"/>
<path d="M350.95 260.6 L366.05 260.6 L358.5 249.4 Z" fill="#50bbff" stroke="#50bbff" stroke-width="2.5" stroke-linejoin="round"/>
<path d="M371.25 245.4 L386.35 245.4 L378.8 234.2 Z" fill="#50bbff" stroke="#50bbff" stroke-width="2.5" stroke-linejoin="round"/>
<path d="M392.05 230.2 L407.15 230.2 L399.6 219 Z" fill="#50bbff" stroke="#50bbff" stroke-width="2.5" stroke-linejoin="round"/>
<path d="M413.25 216.1 L428.35 216.1 L420.8 204.9 Z" fill="#50bbff" stroke="#50bbff" stroke-width="2.5" stroke-linejoin="round"/>
<path d="M434.05 206.4 L449.15 206.4 L441.6 195.2 Z" fill="#50bbff" stroke="#50bbff" stroke-width="2.5" stroke-linejoin="round"/>
<path d="M455.65 200.6 L470.75 200.6 L463.2 189.4 Z" fill="#50bbff" stroke="#50bbff" stroke-width="2.5" stroke-linejoin="round"/>
<path d="M477.25 195.8 L492.35 195.8 L484.8 184.6 Z" fill="#50bbff" stroke="#50bbff" stroke-width="2.5" stroke-linejoin="round"/>
<path d="M498.85 191.8 L513.95 191.8 L506.4 180.6 Z" fill="#50bbff" stroke="#50bbff" stroke-width="2.5" stroke-linejoin="round"/>
<path d="M520.45 191 L535.55 191 L528 179.8 Z" fill="#50bbff" stroke="#50bbff" stroke-width="2.5" stroke-linejoin="round"/>
<path d="M542.05 190.2 L557.15 190.2 L549.6 179 Z" fill="#50bbff" stroke="#50bbff" stroke-width="2.5" stroke-linejoin="round"/>
<path d="M564.45 186.4 L579.55 186.4 L572 175.2 Z" fill="#50bbff" stroke="#50bbff" stroke-width="2.5" stroke-linejoin="round"/>
<path d="M199.3 175.5 L573 170.3" fill="none" stroke="#7f0000" stroke-width="4.6" stroke-linejoin="round" stroke-linecap="round"/>
<path d="M220.4 172.15 L222.65 175.93 L226.9 176.92 L224.04 180.26 L224.42 184.65 L220.4 182.93 L216.38 184.65 L216.76 180.26 L213.9 176.92 L218.15 175.93 Z" fill="#7f0000" stroke="#7f0000" stroke-width="2.5" stroke-linejoin="round"/>
<path d="M239.6 170.65 L241.85 174.43 L246.1 175.42 L243.24 178.76 L243.62 183.15 L239.6 181.43 L235.58 183.15 L235.96 178.76 L233.1 175.42 L237.35 174.43 Z" fill="#7f0000" stroke="#7f0000" stroke-width="2.5" stroke-linejoin="round"/>
<path d="M258.9 170.05 L261.15 173.83 L265.4 174.82 L262.54 178.16 L262.92 182.55 L258.9 180.83 L254.88 182.55 L255.26 178.16 L252.4 174.82 L256.65 173.83 Z" fill="#7f0000" stroke="#7f0000" stroke-width="2.5" stroke-linejoin="round"/>
<path d="M278.3 169.35 L280.55 173.13 L284.8 174.12 L281.94 177.46 L282.32 181.85 L278.3 180.13 L274.28 181.85 L274.66 177.46 L271.8 174.12 L276.05 173.13 Z" fill="#7f0000" stroke="#7f0000" stroke-width="2.5" stroke-linejoin="round"/>
<path d="M298.3 168.95 L300.55 172.73 L304.8 173.72 L301.94 177.06 L302.32 181.45 L298.3 179.73 L294.28 181.45 L294.66 177.06 L291.8 173.72 L296.05 172.73 Z" fill="#7f0000" stroke="#7f0000" stroke-width="2.5" stroke-linejoin="round"/>
<path d="M318.3 168.25 L320.55 172.03 L324.8 173.02 L321.94 176.36 L322.32 180.75 L318.3 179.03 L314.28 180.75 L314.66 176.36 L311.8 173.02 L316.05 172.03 Z" fill="#7f0000" stroke="#7f0000" stroke-width="2.5" stroke-linejoin="round"/>
<path d="M338.3 168.15 L340.55 171.93 L344.8 172.92 L341.94 176.26 L342.32 180.65 L338.3 178.93 L334.28 180.65 L334.66 176.26 L331.8 172.92 L336.05 171.93 Z" fill="#7f0000" stroke="#7f0000" stroke-width="2.5" stroke-linejoin="round"/>
<path d="M358.5 162.95 L360.75 166.73 L365 167.72 L362.14 171.06 L362.52 175.45 L358.5 173.73 L354.48 175.45 L354.86 171.06 L352 167.72 L356.25 166.73 Z" fill="#7f0000" stroke="#7f0000" stroke-width="2.5" stroke-linejoin="round"/>
<path d="M378.8 167.25 L381.05 171.03 L385.3 172.02 L382.44 175.36 L382.82 179.75 L378.8 178.03 L374.78 179.75 L375.16 175.36 L372.3 172.02 L376.55 171.03 Z" fill="#7f0000" stroke="#7f0000" stroke-width="2.5" stroke-linejoin="round"/>
<path d="M399.6 166.95 L401.85 170.73 L406.1 171.72 L403.24 175.06 L403.62 179.45 L399.6 177.73 L395.58 179.45 L395.96 175.06 L393.1 171.72 L397.35 170.73 Z" fill="#7f0000" stroke="#7f0000" stroke-width="2.5" stroke-linejoin="round"/>
<path d="M420.8 166.55 L423.05 170.33 L427.3 171.32 L424.44 174.66 L424.82 179.05 L420.8 177.33 L416.78 179.05 L417.16 174.66 L414.3 171.32 L418.55 170.33 Z" fill="#7f0000" stroke="#7f0000" stroke-width="2.5" stroke-linejoin="round"/>
<path d="M441.6 166.25 L443.85 170.03 L448.1 171.02 L445.24 174.36 L445.62 178.75 L441.6 177.03 L437.58 178.75 L437.96 174.36 L435.1 171.02 L439.35 170.03 Z" fill="#7f0000" stroke="#7f0000" stroke-width="2.5" stroke-linejoin="round"/>
<path d="M463.2 165.95 L465.45 169.73 L469.7 170.72 L466.84 174.06 L467.22 178.45 L463.2 176.73 L459.18 178.45 L459.56 174.06 L456.7 170.72 L460.95 169.73 Z" fill="#7f0000" stroke="#7f0000" stroke-width="2.5" stroke-linejoin="round"/>
<path d="M484.8 165.75 L487.05 169.53 L491.3 170.52 L488.44 173.86 L488.82 178.25 L484.8 176.53 L480.78 178.25 L481.16 173.86 L478.3 170.52 L482.55 169.53 Z" fill="#7f0000" stroke="#7f0000" stroke-width="2.5" stroke-linejoin="round"/>
<path d="M506.4 165.25 L508.65 169.03 L512.9 170.02 L510.04 173.36 L510.42 177.75 L506.4 176.03 L502.38 177.75 L502.76 173.36 L499.9 170.02 L504.15 169.03 Z" fill="#7f0000" stroke="#7f0000" stroke-width="2.5" stroke-linejoin="round"/>
<path d="M528 164.95 L530.25 168.73 L534.5 169.72 L531.64 173.06 L532.02 177.45 L528 175.73 L523.98 177.45 L524.36 173.06 L521.5 169.72 L525.75 168.73 Z" fill="#7f0000" stroke="#7f0000" stroke-width="2.5" stroke-linejoin="round"/>
<path d="M549.6 164.75 L551.85 168.53 L556.1 169.52 L553.24 172.86 L553.62 177.25 L549.6 175.53 L545.58 177.25 L545.96 172.86 L543.1 169.52 L547.35 168.53 Z" fill="#7f0000" stroke="#7f0000" stroke-width="2.5" stroke-linejoin="round"/>
<path d="M572 164.55 L574.25 168.33 L578.5 169.32 L575.64 172.66 L576.02 177.05 L572 175.33 L567.98 177.05 L568.36 172.66 L565.5 169.32 L569.75 168.33 Z" fill="#7f0000" stroke="#7f0000" stroke-width="2.5" stroke-linejoin="round"/>
<ellipse cx="360" cy="320.3" rx="10.5" ry="9.3" fill="#000000"/>
<path d="M360 349.35 L371.6 359.8 L360 370.25 L348.4 359.8 Z" fill="#0000ff" stroke="#0000ff" stroke-width="2.5" stroke-linejoin="round"/>
<path d="M359.9 389.45 L370.45 396.29 L366.42 407.35 L353.38 407.35 L349.35 396.29 Z" fill="#9900cc" stroke="#9900cc" stroke-width="2.5" stroke-linejoin="round"/>
<path d="M349.5 432.9 L370.5 432.9 L360 449.7 Z" fill="#ff8000" stroke="#ff8000" stroke-width="3" stroke-linejoin="round"/>
<path d="M349.5 483.8 L370.5 483.8 L360 467 Z" fill="#50bbff" stroke="#50bbff" stroke-width="3" stroke-linejoin="round"/>
<path d="M360 507.7 L363.51 512.78 L370.15 514.12 L365.68 518.59 L366.27 524.5 L360 522.19 L353.73 524.5 L354.32 518.59 L349.85 514.12 L356.49 512.78 Z" fill="#7f0000" stroke="#7f0000" stroke-width="3" stroke-linejoin="round"/>
<text x="392.6" y="290.4" font-size="27.78" textLength="115.49" lengthAdjust="spacingAndGlyphs">hnRNP L</text>
<text x="393.56" y="328" font-size="28.95" textLength="43.46" lengthAdjust="spacingAndGlyphs">WT</text>
<text x="382.36" y="368.6" font-size="29.24" textLength="84.41" lengthAdjust="spacingAndGlyphs">V210A</text>
<text x="381.28" y="408.8" font-size="28.95" textLength="74.05" lengthAdjust="spacingAndGlyphs">I214A</text>
<text x="381.28" y="450.8" font-size="28.95" textLength="74.05" lengthAdjust="spacingAndGlyphs">I256A</text>
<text x="381.57" y="485.3" font-size="29.09" textLength="81.68" lengthAdjust="spacingAndGlyphs">L263A</text>
<text x="382.27" y="526.4" font-size="29.24" textLength="84.71" lengthAdjust="spacingAndGlyphs">Y257A</text>
<text x="557.39" y="287.7" font-size="28.07" font-style="italic" textLength="17.95" lengthAdjust="spacingAndGlyphs">K</text>
<text x="574.28" y="297.3" font-size="14.84" fill="#222" textLength="12.43" lengthAdjust="spacingAndGlyphs">D</text>
<text x="594.92" y="288.09" font-size="27.99" textLength="58.99" lengthAdjust="spacingAndGlyphs">(µM)</text>
<text x="524.17" y="328.72" font-size="27.99" textLength="140.9" lengthAdjust="spacingAndGlyphs">5.83 ± 0.32</text>
<text x="523.35" y="368.41" font-size="28.83" textLength="142.09" lengthAdjust="spacingAndGlyphs">9.33 ± 0.89</text>
<text x="517" y="408.72" font-size="28.27" textLength="155.65" lengthAdjust="spacingAndGlyphs">15.60 ± 1.95</text>
<text x="516.35" y="450.72" font-size="28.41" textLength="155.95" lengthAdjust="spacingAndGlyphs">35.00 ± 5.34</text>
<text x="517.04" y="485.21" font-size="29.12" textLength="152.39" lengthAdjust="spacingAndGlyphs">13.20 ± 2.21</text>
<text x="524.65" y="526.63" font-size="27.35" textLength="139.09" lengthAdjust="spacingAndGlyphs">No Binding</text>
<text x="4.89" y="706.18" font-size="52.42" font-weight="bold" textLength="25.1" lengthAdjust="spacingAndGlyphs">c</text>
<text x="59.31" y="788.2" font-size="31.27" textLength="766.27" lengthAdjust="spacingAndGlyphs">Titration of hnRNP L RRM2 with SETD2 mutant peptides</text>
<rect x="152.4" y="812.9" width="562" height="403.7" fill="none" stroke="#000" stroke-width="2.7"/>
<line x1="143" y1="853.5" x2="152.4" y2="853.5" stroke="#000" stroke-width="2.6" stroke-linecap="butt"/>
<line x1="143" y1="934.1" x2="152.4" y2="934.1" stroke="#000" stroke-width="2.6" stroke-linecap="butt"/>
<line x1="143" y1="1014.7" x2="152.4" y2="1014.7" stroke="#000" stroke-width="2.6" stroke-linecap="butt"/>
<line x1="143" y1="1095.3" x2="152.4" y2="1095.3" stroke="#000" stroke-width="2.6" stroke-linecap="butt"/>
<line x1="143" y1="1175.9" x2="152.4" y2="1175.9" stroke="#000" stroke-width="2.6" stroke-linecap="butt"/>
<line x1="147.4" y1="893.8" x2="152.4" y2="893.8" stroke="#000" stroke-width="2.4" stroke-linecap="butt"/>
<line x1="147.4" y1="974.4" x2="152.4" y2="974.4" stroke="#000" stroke-width="2.4" stroke-linecap="butt"/>
<line x1="147.4" y1="1055" x2="152.4" y2="1055" stroke="#000" stroke-width="2.4" stroke-linecap="butt"/>
<line x1="147.4" y1="1135.6" x2="152.4" y2="1135.6" stroke="#000" stroke-width="2.4" stroke-linecap="butt"/>
<line x1="147.4" y1="1216.2" x2="152.4" y2="1216.2" stroke="#000" stroke-width="2.4" stroke-linecap="butt"/>
<text x="106.2" y="866.74" font-size="26.43" textLength="15.26" lengthAdjust="spacingAndGlyphs">0</text>
<text x="101.83" y="941.53" font-size="27.1" textLength="25.04" lengthAdjust="spacingAndGlyphs">-5</text>
<text x="94.62" y="1024.31" font-size="28.55" textLength="37.76" lengthAdjust="spacingAndGlyphs">-10</text>
<text x="94.62" y="1104.52" font-size="27.96" textLength="37.83" lengthAdjust="spacingAndGlyphs">-15</text>
<text x="94.62" y="1184.93" font-size="27.42" textLength="37.76" lengthAdjust="spacingAndGlyphs">-20</text>
<line x1="195.6" y1="1216.6" x2="195.6" y2="1224.3" stroke="#000" stroke-width="2.7" stroke-linecap="butt"/>
<line x1="282.18" y1="1216.6" x2="282.18" y2="1224.3" stroke="#000" stroke-width="2.7" stroke-linecap="butt"/>
<line x1="368.76" y1="1216.6" x2="368.76" y2="1224.3" stroke="#000" stroke-width="2.7" stroke-linecap="butt"/>
<line x1="455.34" y1="1216.6" x2="455.34" y2="1224.3" stroke="#000" stroke-width="2.7" stroke-linecap="butt"/>
<line x1="541.92" y1="1216.6" x2="541.92" y2="1224.3" stroke="#000" stroke-width="2.7" stroke-linecap="butt"/>
<line x1="628.5" y1="1216.6" x2="628.5" y2="1224.3" stroke="#000" stroke-width="2.7" stroke-linecap="butt"/>
<line x1="715.08" y1="1216.6" x2="715.08" y2="1224.3" stroke="#000" stroke-width="2.7" stroke-linecap="butt"/>
<line x1="152.31" y1="1216.6" x2="152.31" y2="1220.5" stroke="#000" stroke-width="2.5" stroke-linecap="butt"/>
<line x1="238.89" y1="1216.6" x2="238.89" y2="1220.5" stroke="#000" stroke-width="2.5" stroke-linecap="butt"/>
<line x1="325.47" y1="1216.6" x2="325.47" y2="1220.5" stroke="#000" stroke-width="2.5" stroke-linecap="butt"/>
<line x1="412.05" y1="1216.6" x2="412.05" y2="1220.5" stroke="#000" stroke-width="2.5" stroke-linecap="butt"/>
<line x1="498.63" y1="1216.6" x2="498.63" y2="1220.5" stroke="#000" stroke-width="2.5" stroke-linecap="butt"/>
<line x1="585.21" y1="1216.6" x2="585.21" y2="1220.5" stroke="#000" stroke-width="2.5" stroke-linecap="butt"/>
<line x1="671.79" y1="1216.6" x2="671.79" y2="1220.5" stroke="#000" stroke-width="2.5" stroke-linecap="butt"/>
<text x="178.11" y="1254.72" font-size="27.7" textLength="37.92" lengthAdjust="spacingAndGlyphs">0.0</text>
<text x="264.69" y="1254.72" font-size="27.7" textLength="37.99" lengthAdjust="spacingAndGlyphs">0.5</text>
<text x="350.26" y="1254.72" font-size="27.7" textLength="38.96" lengthAdjust="spacingAndGlyphs">1.0</text>
<text x="436.83" y="1254.72" font-size="28.1" textLength="39.03" lengthAdjust="spacingAndGlyphs">1.5</text>
<text x="524.15" y="1254.72" font-size="27.7" textLength="38.21" lengthAdjust="spacingAndGlyphs">2.0</text>
<text x="610.72" y="1254.72" font-size="27.7" textLength="38.28" lengthAdjust="spacingAndGlyphs">2.5</text>
<text x="370.09" y="1296.8" font-size="28.36" textLength="137.1" lengthAdjust="spacingAndGlyphs">Molar Ratio</text>
<text x="68.1" y="1145.67" font-size="27.45" textLength="243.16" lengthAdjust="spacingAndGlyphs" transform="rotate(-90 68.1 1145.67)">Injectant ( Kcal/mol )</text>
<path d="M203.9 897.1 L206.65 897.1 L209.4 897.1 L212.16 897.1 L214.91 897.1 L217.66 897.1 L220.41 897.1 L223.17 897.1 L225.92 897.1 L228.67 897.1 L231.42 897.1 L234.18 897.1 L236.93 897.1 L239.68 897.1 L242.43 897.1 L245.19 897.1 L247.94 897.1 L250.69 897.1 L253.44 897.1 L256.19 897.1 L258.95 897.1 L261.7 897.1 L264.45 897.1 L267.2 897.1 L269.96 897.1 L272.71 897.1 L275.46 897.1 L278.21 897.1 L280.97 897.1 L283.72 897.1 L286.47 897.1 L289.22 897.1 L291.98 897.1 L294.73 897.1 L297.48 897.1 L300.23 897.1 L302.98 897.1 L305.74 897.1 L308.49 897.1 L311.24 897.1 L313.99 897.1 L316.75 897.1 L319.5 897.1 L322.25 897.09 L325 897.09 L327.76 897.09 L330.51 897.08 L333.26 897.08 L336.01 897.07 L338.77 897.05 L341.52 897.04 L344.27 897.01 L347.02 896.98 L349.77 896.93 L352.53 896.87 L355.28 896.78 L358.03 896.66 L360.78 896.5 L363.54 896.28 L366.29 895.98 L369.04 895.58 L371.79 895.05 L374.55 894.36 L377.3 893.47 L380.05 892.35 L382.8 891 L385.56 889.41 L388.31 887.63 L391.06 885.72 L393.81 883.77 L396.56 881.89 L399.32 880.16 L402.07 878.64 L404.82 877.37 L407.57 876.33 L410.33 875.5 L413.08 874.86 L415.83 874.38 L418.58 874.01 L421.34 873.74 L424.09 873.54 L426.84 873.39 L429.59 873.29 L432.34 873.21 L435.1 873.15 L437.85 873.11 L440.6 873.08 L443.35 873.06 L446.11 873.04 L448.86 873.03 L451.61 873.02 L454.36 873.02 L457.12 873.01 L459.87 873.01 L462.62 873.01 L465.37 873 L468.13 873 L470.88 873 L473.63 873 L476.38 873 L479.13 873 L481.89 873 L484.64 873 L487.39 873 L490.14 873 L492.9 873 L495.65 873 L498.4 873 L501.15 873 L503.91 873 L506.66 873 L509.41 873 L512.16 873 L514.92 873 L517.67 873 L520.42 873 L523.17 873 L525.92 873 L528.68 873 L531.43 873 L534.18 873 L536.93 873 L539.69 873 L542.44 873 L545.19 873 L547.94 873 L550.7 873 L553.45 873 L556.2 873 L558.95 873 L561.71 873 L564.46 873 L567.21 873 L569.96 873 L572.71 873 L575.47 873 L578.22 873 L580.97 873 L583.72 873 L586.48 873 L589.23 873 L591.98 873 L594.73 873 L597.49 873 L600.24 873 L602.99 873 L605.74 873 L608.5 873 L611.25 873 L614 873" fill="none" stroke="#000" stroke-width="3.8" stroke-linejoin="round" stroke-linecap="round"/>
<ellipse cx="225.85" cy="902.47" rx="5.4" ry="4.9" fill="#000"/>
<ellipse cx="247.12" cy="894.74" rx="5.4" ry="4.9" fill="#000"/>
<ellipse cx="268.38" cy="908.66" rx="5.4" ry="4.9" fill="#000"/>
<ellipse cx="289.65" cy="899.38" rx="5.4" ry="4.9" fill="#000"/>
<ellipse cx="310.92" cy="881.21" rx="5.4" ry="4.9" fill="#000"/>
<ellipse cx="332.19" cy="887.39" rx="5.4" ry="4.9" fill="#000"/>
<ellipse cx="353.84" cy="906.34" rx="5.4" ry="4.9" fill="#000"/>
<ellipse cx="375.89" cy="889.71" rx="5.4" ry="4.9" fill="#000"/>
<ellipse cx="398.31" cy="883.53" rx="5.4" ry="4.9" fill="#000"/>
<ellipse cx="421.13" cy="868.83" rx="5.4" ry="4.9" fill="#000"/>
<ellipse cx="443.94" cy="870.77" rx="5.4" ry="4.9" fill="#000"/>
<ellipse cx="466.76" cy="882.37" rx="5.4" ry="4.9" fill="#000"/>
<ellipse cx="489.96" cy="882.37" rx="5.4" ry="4.9" fill="#000"/>
<ellipse cx="513.16" cy="861.87" rx="5.4" ry="4.9" fill="#000"/>
<ellipse cx="536.37" cy="875.41" rx="5.4" ry="4.9" fill="#000"/>
<ellipse cx="560.73" cy="876.18" rx="5.4" ry="4.9" fill="#000"/>
<ellipse cx="583.93" cy="881.21" rx="5.4" ry="4.9" fill="#000"/>
<ellipse cx="607.9" cy="867.67" rx="5.4" ry="4.9" fill="#000"/>
<path d="M203.9 891.7 L206.65 890.99 L209.4 890.29 L212.16 889.61 L214.91 888.94 L217.66 888.29 L220.41 887.66 L223.17 887.04 L225.92 886.44 L228.67 885.86 L231.42 885.3 L234.18 884.76 L236.93 884.23 L239.68 883.71 L242.43 883.19 L245.19 882.68 L247.94 882.18 L250.69 881.69 L253.44 881.23 L256.19 880.79 L258.95 880.38 L261.7 879.99 L264.45 879.65 L267.2 879.34 L269.96 879.06 L272.71 878.8 L275.46 878.55 L278.21 878.3 L280.97 878.07 L283.72 877.84 L286.47 877.63 L289.22 877.42 L291.98 877.22 L294.73 877.03 L297.48 876.85 L300.23 876.68 L302.98 876.51 L305.74 876.35 L308.49 876.19 L311.24 876.04 L313.99 875.9 L316.75 875.76 L319.5 875.62 L322.25 875.49 L325 875.37 L327.76 875.25 L330.51 875.13 L333.26 875.01 L336.01 874.9 L338.77 874.79 L341.52 874.69 L344.27 874.58 L347.02 874.49 L349.77 874.39 L352.53 874.3 L355.28 874.2 L358.03 874.12 L360.78 874.03 L363.54 873.95 L366.29 873.87 L369.04 873.79 L371.79 873.71 L374.55 873.64 L377.3 873.56 L380.05 873.49 L382.8 873.42 L385.56 873.35 L388.31 873.28 L391.06 873.22 L393.81 873.15 L396.56 873.09 L399.32 873.02 L402.07 872.96 L404.82 872.9 L407.57 872.84 L410.33 872.78 L413.08 872.72 L415.83 872.66 L418.58 872.6 L421.34 872.55 L424.09 872.49 L426.84 872.44 L429.59 872.38 L432.34 872.33 L435.1 872.28 L437.85 872.23 L440.6 872.18 L443.35 872.13 L446.11 872.08 L448.86 872.03 L451.61 871.98 L454.36 871.93 L457.12 871.88 L459.87 871.83 L462.62 871.79 L465.37 871.74 L468.13 871.7 L470.88 871.65 L473.63 871.6 L476.38 871.56 L479.13 871.51 L481.89 871.47 L484.64 871.42 L487.39 871.38 L490.14 871.34 L492.9 871.29 L495.65 871.25 L498.4 871.21 L501.15 871.16 L503.91 871.12 L506.66 871.08 L509.41 871.04 L512.16 870.99 L514.92 870.95 L517.67 870.91 L520.42 870.87 L523.17 870.83 L525.92 870.79 L528.68 870.75 L531.43 870.71 L534.18 870.67 L536.93 870.63 L539.69 870.59 L542.44 870.55 L545.19 870.51 L547.94 870.48 L550.7 870.44 L553.45 870.4 L556.2 870.37 L558.95 870.33 L561.71 870.29 L564.46 870.26 L567.21 870.22 L569.96 870.19 L572.71 870.15 L575.47 870.12 L578.22 870.09 L580.97 870.06 L583.72 870.02 L586.48 869.99 L589.23 869.96 L591.98 869.93 L594.73 869.9 L597.49 869.87 L600.24 869.84 L602.99 869.81 L605.74 869.78 L608.5 869.75 L611.25 869.73 L614 869.7" fill="none" stroke="#ff0000" stroke-width="4" stroke-linejoin="round" stroke-linecap="round"/>
<rect x="220.45" y="887.13" width="10.8" height="9.8" fill="#ff0000"/>
<rect x="241.72" y="873.6" width="10.8" height="9.8" fill="#ff0000"/>
<rect x="262.98" y="873.6" width="10.8" height="9.8" fill="#ff0000"/>
<rect x="284.25" y="877.85" width="10.8" height="9.8" fill="#ff0000"/>
<rect x="305.52" y="869.73" width="10.8" height="9.8" fill="#ff0000"/>
<rect x="326.79" y="870.51" width="10.8" height="9.8" fill="#ff0000"/>
<rect x="348.44" y="877.08" width="10.8" height="9.8" fill="#ff0000"/>
<rect x="370.49" y="869.73" width="10.8" height="9.8" fill="#ff0000"/>
<rect x="392.91" y="867.41" width="10.8" height="9.8" fill="#ff0000"/>
<rect x="415.73" y="866.64" width="10.8" height="9.8" fill="#ff0000"/>
<rect x="438.54" y="867.41" width="10.8" height="9.8" fill="#ff0000"/>
<rect x="461.36" y="865.87" width="10.8" height="9.8" fill="#ff0000"/>
<rect x="484.56" y="862.77" width="10.8" height="9.8" fill="#ff0000"/>
<rect x="507.76" y="865.87" width="10.8" height="9.8" fill="#ff0000"/>
<rect x="530.97" y="862.77" width="10.8" height="9.8" fill="#ff0000"/>
<rect x="555.33" y="864.71" width="10.8" height="9.8" fill="#ff0000"/>
<rect x="578.53" y="865.87" width="10.8" height="9.8" fill="#ff0000"/>
<rect x="602.5" y="864.71" width="10.8" height="9.8" fill="#ff0000"/>
<text x="592.3" y="1050" font-size="26.91" font-style="italic" textLength="15.47" lengthAdjust="spacingAndGlyphs">K</text>
<text x="609.09" y="1057.2" font-size="15.71" fill="#222" textLength="12.31" lengthAdjust="spacingAndGlyphs">D</text>
<text x="627.29" y="1050.39" font-size="27.02" textLength="56.86" lengthAdjust="spacingAndGlyphs">(µM)</text>
<ellipse cx="352.2" cy="1100.4" rx="8" ry="7.2" fill="#000"/>
<text x="372.23" y="1106.9" font-size="26.91" textLength="84.1" lengthAdjust="spacingAndGlyphs">SETD2</text>
<text x="456.09" y="1099.2" font-size="15.71" textLength="54.65" lengthAdjust="spacingAndGlyphs">L2189A</text>
<text x="557.18" y="1103.5" font-size="27.2" textLength="131.87" lengthAdjust="spacingAndGlyphs">No Binding</text>
<rect x="344.1" y="1167.65" width="15.6" height="15.1" fill="#ff0000"/>
<text x="368.62" y="1188" font-size="27.2" textLength="84.82" lengthAdjust="spacingAndGlyphs">SETD2</text>
<text x="453" y="1180.3" font-size="16" textLength="54.35" lengthAdjust="spacingAndGlyphs">L2188A</text>
<text x="559.59" y="1193.3" font-size="26.91" textLength="131.15" lengthAdjust="spacingAndGlyphs">No Binding</text>
<text x="-0.29" y="1395.6" font-size="54.62" font-weight="bold" textLength="18.88" lengthAdjust="spacingAndGlyphs">f</text>
<text x="91.32" y="1393.7" font-size="31.56" textLength="657.15" lengthAdjust="spacingAndGlyphs">Titration of hnRNP L RRM2 with SETD2 peptides</text>
<rect x="147.4" y="1429.3" width="574.7" height="412.3" fill="none" stroke="#000" stroke-width="4.2"/>
<line x1="138.2" y1="1429.4" x2="147.4" y2="1429.4" stroke="#000" stroke-width="4" stroke-linecap="butt"/>
<line x1="138.2" y1="1504.3" x2="147.4" y2="1504.3" stroke="#000" stroke-width="4" stroke-linecap="butt"/>
<line x1="138.2" y1="1579.2" x2="147.4" y2="1579.2" stroke="#000" stroke-width="4" stroke-linecap="butt"/>
<line x1="138.2" y1="1654.1" x2="147.4" y2="1654.1" stroke="#000" stroke-width="4" stroke-linecap="butt"/>
<line x1="138.2" y1="1729" x2="147.4" y2="1729" stroke="#000" stroke-width="4" stroke-linecap="butt"/>
<line x1="138.2" y1="1803.9" x2="147.4" y2="1803.9" stroke="#000" stroke-width="4" stroke-linecap="butt"/>
<line x1="142.8" y1="1466.85" x2="147.4" y2="1466.85" stroke="#000" stroke-width="3.2" stroke-linecap="butt"/>
<line x1="142.8" y1="1541.75" x2="147.4" y2="1541.75" stroke="#000" stroke-width="3.2" stroke-linecap="butt"/>
<line x1="142.8" y1="1616.65" x2="147.4" y2="1616.65" stroke="#000" stroke-width="3.2" stroke-linecap="butt"/>
<line x1="142.8" y1="1691.55" x2="147.4" y2="1691.55" stroke="#000" stroke-width="3.2" stroke-linecap="butt"/>
<line x1="142.8" y1="1766.45" x2="147.4" y2="1766.45" stroke="#000" stroke-width="3.2" stroke-linecap="butt"/>
<line x1="142.8" y1="1841.35" x2="147.4" y2="1841.35" stroke="#000" stroke-width="3.2" stroke-linecap="butt"/>
<text x="95.42" y="1436.52" font-size="27.53" textLength="14.99" lengthAdjust="spacingAndGlyphs">5</text>
<text x="92.79" y="1509.04" font-size="26.29" textLength="15.49" lengthAdjust="spacingAndGlyphs">0</text>
<text x="89.12" y="1580.03" font-size="27.1" textLength="23.27" lengthAdjust="spacingAndGlyphs">-5</text>
<text x="81.74" y="1660.34" font-size="26.43" textLength="37.34" lengthAdjust="spacingAndGlyphs">-10</text>
<text x="81.74" y="1736.43" font-size="27.1" textLength="37.41" lengthAdjust="spacingAndGlyphs">-15</text>
<text x="81.74" y="1810.93" font-size="26.86" textLength="37.34" lengthAdjust="spacingAndGlyphs">-20</text>
<line x1="183.3" y1="1841.6" x2="183.3" y2="1849.6" stroke="#000" stroke-width="4" stroke-linecap="butt"/>
<line x1="255.15" y1="1841.6" x2="255.15" y2="1849.6" stroke="#000" stroke-width="4" stroke-linecap="butt"/>
<line x1="327" y1="1841.6" x2="327" y2="1849.6" stroke="#000" stroke-width="4" stroke-linecap="butt"/>
<line x1="398.85" y1="1841.6" x2="398.85" y2="1849.6" stroke="#000" stroke-width="4" stroke-linecap="butt"/>
<line x1="470.7" y1="1841.6" x2="470.7" y2="1849.6" stroke="#000" stroke-width="4" stroke-linecap="butt"/>
<line x1="542.55" y1="1841.6" x2="542.55" y2="1849.6" stroke="#000" stroke-width="4" stroke-linecap="butt"/>
<line x1="614.4" y1="1841.6" x2="614.4" y2="1849.6" stroke="#000" stroke-width="4" stroke-linecap="butt"/>
<line x1="686.25" y1="1841.6" x2="686.25" y2="1849.6" stroke="#000" stroke-width="4" stroke-linecap="butt"/>
<line x1="147.38" y1="1841.6" x2="147.38" y2="1845.8" stroke="#000" stroke-width="3.2" stroke-linecap="butt"/>
<line x1="219.23" y1="1841.6" x2="219.23" y2="1845.8" stroke="#000" stroke-width="3.2" stroke-linecap="butt"/>
<line x1="291.07" y1="1841.6" x2="291.07" y2="1845.8" stroke="#000" stroke-width="3.2" stroke-linecap="butt"/>
<line x1="362.93" y1="1841.6" x2="362.93" y2="1845.8" stroke="#000" stroke-width="3.2" stroke-linecap="butt"/>
<line x1="434.77" y1="1841.6" x2="434.77" y2="1845.8" stroke="#000" stroke-width="3.2" stroke-linecap="butt"/>
<line x1="506.62" y1="1841.6" x2="506.62" y2="1845.8" stroke="#000" stroke-width="3.2" stroke-linecap="butt"/>
<line x1="578.47" y1="1841.6" x2="578.47" y2="1845.8" stroke="#000" stroke-width="3.2" stroke-linecap="butt"/>
<line x1="650.33" y1="1841.6" x2="650.33" y2="1845.8" stroke="#000" stroke-width="3.2" stroke-linecap="butt"/>
<line x1="722.17" y1="1841.6" x2="722.17" y2="1845.8" stroke="#000" stroke-width="3.2" stroke-linecap="butt"/>
<text x="160.62" y="1885.22" font-size="27.84" textLength="37.71" lengthAdjust="spacingAndGlyphs">0.0</text>
<text x="236.11" y="1885.22" font-size="27.84" textLength="37.78" lengthAdjust="spacingAndGlyphs">0.5</text>
<text x="308.81" y="1885.22" font-size="27.84" textLength="38.74" lengthAdjust="spacingAndGlyphs">1.0</text>
<text x="380.91" y="1885.22" font-size="28.24" textLength="38.82" lengthAdjust="spacingAndGlyphs">1.5</text>
<text x="451.03" y="1885.22" font-size="27.84" textLength="38" lengthAdjust="spacingAndGlyphs">2.0</text>
<text x="525.03" y="1885.22" font-size="27.84" textLength="38.07" lengthAdjust="spacingAndGlyphs">2.5</text>
<text x="598.78" y="1885.22" font-size="27.84" textLength="37.64" lengthAdjust="spacingAndGlyphs">3.0</text>
<text x="668.68" y="1885.22" font-size="27.84" textLength="37.71" lengthAdjust="spacingAndGlyphs">3.5</text>
<text x="384.73" y="1920.8" font-size="28.36" textLength="140.48" lengthAdjust="spacingAndGlyphs">Molar Ratio</text>
<text x="75.91" y="1774.31" font-size="26.92" textLength="247.73" lengthAdjust="spacingAndGlyphs" transform="rotate(-90 75.91 1774.31)">Injectant ( Kcal/mol )</text>
<path d="M191.5 1789.86 L194.62 1788.66 L197.74 1787.35 L200.86 1785.95 L203.98 1784.43 L207.1 1782.8 L210.21 1781.06 L213.33 1779.19 L216.45 1777.18 L219.57 1775.05 L222.69 1772.77 L225.81 1770.34 L228.93 1767.77 L232.05 1765.03 L235.17 1762.13 L238.29 1759.06 L241.4 1755.82 L244.52 1752.4 L247.64 1748.79 L250.76 1745 L253.88 1741.01 L257 1736.85 L260.12 1732.54 L263.24 1728.08 L266.36 1723.49 L269.48 1718.79 L272.6 1714 L275.71 1709.13 L278.83 1704.19 L281.95 1699.2 L285.07 1694.18 L288.19 1689.14 L291.31 1684.09 L294.43 1679.05 L297.55 1674.03 L300.67 1669.02 L303.79 1664.03 L306.9 1659.07 L310.02 1654.15 L313.14 1649.27 L316.26 1644.43 L319.38 1639.64 L322.5 1634.91 L325.62 1630.24 L328.74 1625.63 L331.86 1621.1 L334.98 1616.65 L338.1 1612.28 L341.21 1607.99 L344.33 1603.81 L347.45 1599.72 L350.57 1595.73 L353.69 1591.86 L356.81 1588.1 L359.93 1584.47 L363.05 1580.96 L366.17 1577.59 L369.29 1574.35 L372.4 1571.25 L375.52 1568.3 L378.64 1565.48 L381.76 1562.79 L384.88 1560.23 L388 1557.79 L391.12 1555.47 L394.24 1553.26 L397.36 1551.16 L400.48 1549.17 L403.6 1547.27 L406.71 1545.48 L409.83 1543.77 L412.95 1542.15 L416.07 1540.61 L419.19 1539.15 L422.31 1537.77 L425.43 1536.45 L428.55 1535.2 L431.67 1534.01 L434.79 1532.87 L437.9 1531.79 L441.02 1530.75 L444.14 1529.76 L447.26 1528.8 L450.38 1527.88 L453.5 1526.98 L456.62 1526.12 L459.74 1525.27 L462.86 1524.44 L465.98 1523.62 L469.1 1522.81 L472.21 1522 L475.33 1521.19 L478.45 1520.37 L481.57 1519.55 L484.69 1518.73 L487.81 1517.92 L490.93 1517.11 L494.05 1516.32 L497.17 1515.55 L500.29 1514.79 L503.4 1514.06 L506.52 1513.36 L509.64 1512.7 L512.76 1512.07 L515.88 1511.48 L519 1510.93 L522.12 1510.44 L525.24 1510 L528.36 1509.61 L531.48 1509.29 L534.6 1509.03 L537.71 1508.84 L540.83 1508.72 L543.95 1508.68 L547.07 1508.72 L550.19 1508.85 L553.31 1509.06 L556.43 1509.37 L559.55 1509.77 L562.67 1510.28" fill="none" stroke="#000" stroke-width="4.2" stroke-linejoin="round" stroke-linecap="round"/>
<ellipse cx="211.73" cy="1777.73" rx="7.3" ry="6.9" fill="#000"/>
<ellipse cx="230.4" cy="1767.6" rx="7.3" ry="6.9" fill="#000"/>
<ellipse cx="249.6" cy="1746.27" rx="7.3" ry="6.9" fill="#000"/>
<ellipse cx="269.87" cy="1718.53" rx="7.3" ry="6.9" fill="#000"/>
<ellipse cx="289.6" cy="1690.27" rx="7.3" ry="6.9" fill="#000"/>
<ellipse cx="309.33" cy="1652.93" rx="7.3" ry="6.9" fill="#000"/>
<ellipse cx="329.6" cy="1623.07" rx="7.3" ry="6.9" fill="#000"/>
<ellipse cx="349.33" cy="1595.33" rx="7.3" ry="6.9" fill="#000"/>
<ellipse cx="369.6" cy="1575.6" rx="7.3" ry="6.9" fill="#000"/>
<ellipse cx="390.93" cy="1555.33" rx="7.3" ry="6.9" fill="#000"/>
<ellipse cx="411.73" cy="1545.2" rx="7.3" ry="6.9" fill="#000"/>
<ellipse cx="433.07" cy="1532.93" rx="7.3" ry="6.9" fill="#000"/>
<ellipse cx="454.4" cy="1526.53" rx="7.3" ry="6.9" fill="#000"/>
<ellipse cx="475.73" cy="1520.67" rx="7.3" ry="6.9" fill="#000"/>
<ellipse cx="497.07" cy="1514.8" rx="7.3" ry="6.9" fill="#000"/>
<ellipse cx="518.93" cy="1511.07" rx="7.3" ry="6.9" fill="#000"/>
<ellipse cx="540.8" cy="1509.47" rx="7.3" ry="6.9" fill="#000"/>
<ellipse cx="562.67" cy="1510" rx="7.3" ry="6.9" fill="#000"/>
<path d="M194.67 1712.77 L198.68 1710.52 L202.69 1708.15 L206.7 1705.68 L210.71 1703.11 L214.72 1700.44 L218.73 1697.68 L222.75 1694.83 L226.76 1691.91 L230.77 1688.91 L234.78 1685.85 L238.79 1682.72 L242.8 1679.53 L246.81 1676.29 L250.82 1673.01 L254.83 1669.68 L258.85 1666.33 L262.86 1662.94 L266.87 1659.53 L270.88 1656.1 L274.89 1652.65 L278.9 1649.2 L282.91 1645.75 L286.92 1642.31 L290.94 1638.87 L294.95 1635.45 L298.96 1632.05 L302.97 1628.68 L306.98 1625.34 L310.99 1622.03 L315 1618.77 L319.01 1615.56 L323.03 1612.41 L327.04 1609.31 L331.05 1606.26 L335.06 1603.27 L339.07 1600.34 L343.08 1597.47 L347.09 1594.65 L351.1 1591.89 L355.11 1589.19 L359.13 1586.54 L363.14 1583.95 L367.15 1581.42 L371.16 1578.95 L375.17 1576.54 L379.18 1574.18 L383.19 1571.89 L387.2 1569.65 L391.22 1567.47 L395.23 1565.35 L399.24 1563.29 L403.25 1561.29 L407.26 1559.35 L411.27 1557.47 L415.28 1555.65 L419.29 1553.89 L423.31 1552.19 L427.32 1550.55 L431.33 1548.97 L435.34 1547.44 L439.35 1545.98 L443.36 1544.57 L447.37 1543.22 L451.38 1541.92 L455.39 1540.67 L459.41 1539.47 L463.42 1538.32 L467.43 1537.22 L471.44 1536.16 L475.45 1535.15 L479.46 1534.18 L483.47 1533.26 L487.48 1532.38 L491.5 1531.54 L495.51 1530.73 L499.52 1529.97 L503.53 1529.24 L507.54 1528.54 L511.55 1527.88 L515.56 1527.25 L519.57 1526.66 L523.59 1526.09 L527.6 1525.55 L531.61 1525.04 L535.62 1524.55 L539.63 1524.09 L543.64 1523.65 L547.65 1523.23 L551.66 1522.83 L555.68 1522.46 L559.69 1522.1 L563.7 1521.75 L567.71 1521.42 L571.72 1521.11 L575.73 1520.81 L579.74 1520.52 L583.75 1520.24 L587.76 1519.97 L591.78 1519.71 L595.79 1519.45 L599.8 1519.2 L603.81 1518.95 L607.82 1518.7 L611.83 1518.46 L615.84 1518.21 L619.85 1517.96 L623.87 1517.71 L627.88 1517.46 L631.89 1517.2 L635.9 1516.93 L639.91 1516.66 L643.92 1516.38 L647.93 1516.08 L651.94 1515.77 L655.96 1515.45 L659.97 1515.12 L663.98 1514.77 L667.99 1514.4 L672 1514.01" fill="none" stroke="#ff0000" stroke-width="4" stroke-linejoin="round" stroke-linecap="round"/>
<rect x="214.23" y="1693.9" width="11" height="9.8" fill="#ff0000"/>
<rect x="238.77" y="1675.77" width="11" height="9.8" fill="#ff0000"/>
<rect x="263.83" y="1654.43" width="11" height="9.8" fill="#ff0000"/>
<rect x="288.9" y="1629.9" width="11" height="9.8" fill="#ff0000"/>
<rect x="314.5" y="1608.03" width="11" height="9.8" fill="#ff0000"/>
<rect x="340.1" y="1588.3" width="11" height="9.8" fill="#ff0000"/>
<rect x="365.17" y="1574.43" width="11" height="9.8" fill="#ff0000"/>
<rect x="391.83" y="1560.03" width="11" height="9.8" fill="#ff0000"/>
<rect x="418.5" y="1547.77" width="11" height="9.8" fill="#ff0000"/>
<rect x="445.17" y="1536.57" width="11" height="9.8" fill="#ff0000"/>
<rect x="471.83" y="1530.17" width="11" height="9.8" fill="#ff0000"/>
<rect x="498.5" y="1525.9" width="11" height="9.8" fill="#ff0000"/>
<rect x="526.77" y="1520.57" width="11" height="9.8" fill="#ff0000"/>
<rect x="553.43" y="1516.83" width="11" height="9.8" fill="#ff0000"/>
<rect x="581.17" y="1514.7" width="11" height="9.8" fill="#ff0000"/>
<rect x="609.43" y="1512.57" width="11" height="9.8" fill="#ff0000"/>
<rect x="638.23" y="1510.97" width="11" height="9.8" fill="#ff0000"/>
<rect x="666.5" y="1509.9" width="11" height="9.8" fill="#ff0000"/>
<text x="568.49" y="1705.5" font-size="27.64" font-style="italic" textLength="18.05" lengthAdjust="spacingAndGlyphs">K</text>
<text x="584.75" y="1713.8" font-size="14.4" fill="#222" textLength="12.68" lengthAdjust="spacingAndGlyphs">D</text>
<text x="603.95" y="1705.32" font-size="25.95" textLength="58.03" lengthAdjust="spacingAndGlyphs">(µM)</text>
<ellipse cx="309.7" cy="1735.6" rx="10" ry="8.9" fill="#000"/>
<text x="330.18" y="1748.9" font-size="27.2" textLength="87.09" lengthAdjust="spacingAndGlyphs">SETD2</text>
<text x="416.9" y="1740.15" font-size="15.41" textLength="76.54" lengthAdjust="spacingAndGlyphs">2167-2192</text>
<text x="544.01" y="1748.64" font-size="25.72" textLength="135.91" lengthAdjust="spacingAndGlyphs">5.83 ± 0.32</text>
<rect x="301.5" y="1767.1" width="16.4" height="14.3" fill="#ff0000"/>
<text x="330.18" y="1787.9" font-size="26.47" textLength="87.09" lengthAdjust="spacingAndGlyphs">SETD2</text>
<text x="416.9" y="1779.15" font-size="15.41" textLength="76.54" lengthAdjust="spacingAndGlyphs">2180-2192</text>
<text x="531.67" y="1787.64" font-size="25.72" textLength="148.23" lengthAdjust="spacingAndGlyphs">11.80 ± 0.62</text>
<text x="835.56" y="39.98" font-size="51.7" font-weight="bold" textLength="32.3" lengthAdjust="spacingAndGlyphs">b</text>
<text x="977.62" y="60.8" font-size="31.27" textLength="139.53" lengthAdjust="spacingAndGlyphs">1 % Input</text>
<text x="1153.69" y="29.1" font-size="31.27" textLength="192.45" lengthAdjust="spacingAndGlyphs">Halo-SETD2C</text>
<text x="1163.55" y="72.2" font-size="31.27" textLength="170.98" lengthAdjust="spacingAndGlyphs">Purification</text>
<path d="M982 91.8 L982 80 L1142.9 80 L1142.9 91.8" fill="none" stroke="#000" stroke-width="4.8" stroke-linejoin="round" stroke-linecap="butt"/>
<path d="M1157.5 91.6 L1157.5 80 L1318.9 80 L1318.9 91.6" fill="none" stroke="#000" stroke-width="4.8" stroke-linejoin="round" stroke-linecap="butt"/>
<text x="978.4" y="249.6" font-size="33.31" textLength="32.57" lengthAdjust="spacingAndGlyphs">FL</text>
<text x="1164.49" y="249.4" font-size="33.45" textLength="32.68" lengthAdjust="spacingAndGlyphs">FL</text>
<text x="1065.67" y="247.24" font-size="32.93" textLength="121.43" lengthAdjust="spacingAndGlyphs" transform="rotate(-90 1065.67 247.24)">322-589</text>
<text x="1127.97" y="248.12" font-size="32.97" textLength="154.01" lengthAdjust="spacingAndGlyphs" transform="rotate(-90 1127.97 248.12)">Mutant FL</text>
<text x="1242.05" y="248.05" font-size="34.77" textLength="122.76" lengthAdjust="spacingAndGlyphs" transform="rotate(-90 1242.05 248.05)">322-589</text>
<text x="1303.86" y="249.04" font-size="34.41" textLength="155.24" lengthAdjust="spacingAndGlyphs" transform="rotate(-90 1303.86 249.04)">Mutant FL</text>
<text x="919.74" y="249.8" font-size="20.36" textLength="33.23" lengthAdjust="spacingAndGlyphs">kDa</text>
<rect x="967" y="256.3" width="357.8" height="100" fill="#f4f4f4"/>
<rect x="967" y="362.6" width="357.8" height="59.3" fill="#f4f4f4"/>
<rect x="967" y="428.4" width="357.8" height="191.5" fill="#f4f4f4"/>
<clipPath id="cb1"><rect x="967" y="256.3" width="357.8" height="100"/></clipPath><g clip-path="url(#cb1)">
<rect x="980.6" y="286.3" width="34" height="6" rx="3" fill="#000" fill-opacity="0.3" filter="url(#b2)"/>
<rect x="1038.5" y="286.3" width="36" height="6" rx="3" fill="#000" fill-opacity="0.35" filter="url(#b2)"/>
<ellipse cx="1056.8" cy="289.5" rx="8" ry="3" fill="#000" fill-opacity="0.45" filter="url(#b2)"/>
<rect x="1097.6" y="287.15" width="36" height="6.5" rx="3.25" fill="#000" fill-opacity="0.5" filter="url(#b2)"/>
<ellipse cx="1111" cy="290.5" rx="10" ry="3.2" fill="#000" fill-opacity="0.35" filter="url(#b2)"/>
<rect x="1101" y="299" width="30" height="22" rx="11" fill="#000" fill-opacity="0.05" filter="url(#b4)"/>
<rect x="1156" y="299" width="39" height="12" rx="3" fill="#000" fill-opacity="0.22" filter="url(#b3)"/>
<rect x="1158" y="294" width="35" height="8" rx="3" fill="#000" fill-opacity="0.06" filter="url(#b3)"/>
<rect x="1155" y="325.15" width="41" height="10.5" rx="3" fill="#000" fill-opacity="0.68" filter="url(#b2)"/>
<rect x="1156" y="339.5" width="39" height="11" rx="3" fill="#000" fill-opacity="0.38" filter="url(#b3)"/>
<rect x="1154" y="307" width="43" height="10" rx="3.5" fill="#000" fill-opacity="0.97" filter="url(#b15)"/>
<rect x="1215.4" y="297.8" width="38" height="12" rx="3" fill="#000" fill-opacity="0.22" filter="url(#b3)"/>
<rect x="1217.4" y="292.8" width="34" height="8" rx="3" fill="#000" fill-opacity="0.06" filter="url(#b3)"/>
<rect x="1214.4" y="323.95" width="40" height="10.5" rx="3" fill="#000" fill-opacity="0.81" filter="url(#b2)"/>
<rect x="1215.4" y="339.5" width="38" height="11" rx="3" fill="#000" fill-opacity="0.47" filter="url(#b3)"/>
<rect x="1213.4" y="305.8" width="42" height="10" rx="3.5" fill="#000" fill-opacity="0.97" filter="url(#b15)"/>
<rect x="1275.7" y="297.5" width="37" height="12" rx="3" fill="#000" fill-opacity="0.22" filter="url(#b3)"/>
<rect x="1277.7" y="292.5" width="33" height="8" rx="3" fill="#000" fill-opacity="0.06" filter="url(#b3)"/>
<rect x="1274.7" y="323.25" width="39" height="10.5" rx="3" fill="#000" fill-opacity="0.55" filter="url(#b2)"/>
<rect x="1275.7" y="339.5" width="37" height="11" rx="3" fill="#000" fill-opacity="0.2" filter="url(#b3)"/>
<rect x="1273.7" y="305.5" width="41" height="10" rx="3.5" fill="#000" fill-opacity="0.97" filter="url(#b15)"/>
</g>
<clipPath id="cb2"><rect x="967" y="362.6" width="357.8" height="59.3"/></clipPath><g clip-path="url(#cb2)">
<rect x="994" y="401" width="12" height="18" rx="9" fill="#000" fill-opacity="0.3" filter="url(#b3)"/>
<rect x="1037" y="401" width="30" height="18" rx="9" fill="#000" fill-opacity="0.25" filter="url(#b3)"/>
<rect x="1037.5" y="363" width="22" height="16" rx="8" fill="#000" fill-opacity="0.1" filter="url(#b3)"/>
<rect x="1037.5" y="379" width="22" height="7" rx="3.5" fill="#000" fill-opacity="0.4" filter="url(#b2)"/>
<ellipse cx="1001.6" cy="386.4" rx="6" ry="3" fill="#000" fill-opacity="0.45" filter="url(#b15)"/>
<ellipse cx="989.3" cy="380.2" rx="3" ry="2" fill="#000" fill-opacity="0.2" filter="url(#b1)"/>
<ellipse cx="1112" cy="384.5" rx="6" ry="2.5" fill="#000" fill-opacity="0.22" filter="url(#b15)"/>
<rect x="1100" y="401" width="20" height="14" rx="7" fill="#000" fill-opacity="0.1" filter="url(#b3)"/>
<ellipse cx="998.2" cy="398.5" rx="18" ry="5.5" fill="#000" fill-opacity="0.4" filter="url(#b2)"/>
<ellipse cx="997.7" cy="398" rx="16.5" ry="4" fill="#000" fill-opacity="1" filter="url(#b1)"/>
<rect x="987.7" y="394.25" width="17" height="7.5" rx="3.75" fill="#000" fill-opacity="1" filter="url(#b1)"/>
<ellipse cx="1055.3" cy="397.3" rx="20" ry="5.5" fill="#000" fill-opacity="0.4" filter="url(#b2)"/>
<ellipse cx="1054.8" cy="396.8" rx="18.5" ry="4" fill="#000" fill-opacity="1" filter="url(#b1)"/>
<rect x="1043.8" y="393.05" width="19" height="7.5" rx="3.75" fill="#000" fill-opacity="1" filter="url(#b1)"/>
<ellipse cx="1113.8" cy="396.7" rx="19.5" ry="5.5" fill="#000" fill-opacity="0.4" filter="url(#b2)"/>
<ellipse cx="1113.3" cy="396.2" rx="18" ry="4" fill="#000" fill-opacity="1" filter="url(#b1)"/>
<rect x="1102.55" y="392.45" width="18.5" height="7.5" rx="3.75" fill="#000" fill-opacity="1" filter="url(#b1)"/>
<path d="M1153 393.8 L1191 395.6 L1191 397.6 L1153 395.8 Z" fill="#000" fill-opacity="0.8" stroke="#000" stroke-opacity="0.8" stroke-width="2.4" stroke-linejoin="round" filter="url(#b1)"/>
<rect x="1209" y="394.2" width="38" height="3.8" rx="1.9" fill="#000" fill-opacity="0.78" filter="url(#b1)"/>
<ellipse cx="1212" cy="392.5" rx="4" ry="5" fill="#000" fill-opacity="0.95" filter="url(#b1)"/>
<rect x="1268.5" y="394.95" width="36" height="3.5" rx="1.75" fill="#000" fill-opacity="0.4" filter="url(#b1)"/>
<ellipse cx="1273" cy="396.2" rx="5" ry="2" fill="#000" fill-opacity="0.3" filter="url(#b1)"/>
<ellipse cx="1300" cy="397" rx="5" ry="2" fill="#000" fill-opacity="0.35" filter="url(#b1)"/>
<rect x="1040" y="418" width="285" height="3" fill="#ffffff" fill-opacity="0.9"/>
</g>
<clipPath id="cb3"><rect x="967" y="428.4" width="357.8" height="191.5"/></clipPath><g clip-path="url(#cb3)">
<rect x="989" y="442.9" width="22" height="7" rx="3.5" fill="#000" fill-opacity="0.35" filter="url(#b2)"/>
<ellipse cx="996.7" cy="446.4" rx="5" ry="3.5" fill="#000" fill-opacity="0.3" filter="url(#b15)"/>
<path d="M1014.1 455.5 L1019.1 457.5 L1022.6 460 L1024.3 465 L1024.4 472 L1023.7 477 L1021.9 480.5 L1021.3 482.5 L1022.4 485 L1022.8 490 L1022.1 495 L1019.1 498.5 L1014.1 500.5 L1006.1 501.5 L994.1 501.5 L986.1 500.5 L981.1 498.5 L978.1 495 L977.4 490 L977.8 485 L978.9 482.5 L978.3 480.5 L976.5 477 L975.8 472 L975.9 465 L977.6 460 L981.1 457.5 L986.1 455.5 Z" fill="#000" fill-opacity="1" filter="url(#b15)"/>
<rect x="993" y="500" width="10" height="6" rx="3" fill="#000" fill-opacity="0.6" filter="url(#b2)"/>
<rect x="983.3" y="509.6" width="36" height="6" rx="3" fill="#000" fill-opacity="0.9" filter="url(#b15)"/>
<ellipse cx="995" cy="512.6" rx="7" ry="3.5" fill="#000" fill-opacity="0.6" filter="url(#b15)"/>
<ellipse cx="997.9" cy="518.8" rx="4" ry="3" fill="#000" fill-opacity="0.4" filter="url(#b15)"/>
<rect x="983.5" y="535.7" width="35" height="9" rx="4.5" fill="#000" fill-opacity="0.92" filter="url(#b15)"/>
<ellipse cx="995" cy="540.2" rx="8" ry="6" fill="#000" fill-opacity="0.7" filter="url(#b15)"/>
<rect x="994" y="544" width="8" height="10" rx="5" fill="#000" fill-opacity="0.55" filter="url(#b2)"/>
<ellipse cx="997.9" cy="593" rx="4.5" ry="2" fill="#000" fill-opacity="0.45" filter="url(#b1)"/>
<rect x="1045.3" y="442.8" width="18" height="6" rx="3" fill="#000" fill-opacity="0.5" filter="url(#b2)"/>
<rect x="1040.3" y="455.25" width="39" height="10.5" rx="5.25" fill="#000" fill-opacity="0.97" filter="url(#b15)"/>
<ellipse cx="1055.5" cy="484.4" rx="4" ry="4" fill="#000" fill-opacity="0.2" filter="url(#b2)"/>
<ellipse cx="1055.5" cy="500.4" rx="4" ry="4" fill="#000" fill-opacity="0.15" filter="url(#b2)"/>
<rect x="1041.5" y="509.25" width="36" height="5.5" rx="2.75" fill="#000" fill-opacity="0.92" filter="url(#b15)"/>
<ellipse cx="1054.3" cy="533.5" rx="7" ry="3.5" fill="#000" fill-opacity="0.35" filter="url(#b2)"/>
<rect x="1043.5" y="537" width="30" height="16" rx="6" fill="#000" fill-opacity="0.75" filter="url(#b3)"/>
<path d="M1072.1 551 L1080.1 554 L1084.6 558 L1085.5 566 L1085.1 576 L1083.6 584 L1081.9 590 L1082.1 593 L1083.1 598 L1083.3 606 L1082.6 614 L1081.1 618 L1080.1 622 L1040.1 622 L1039.1 618 L1037.6 614 L1036.9 606 L1037.1 598 L1038.1 593 L1038.3 590 L1036.6 584 L1035.1 576 L1034.7 566 L1035.6 558 L1040.1 554 L1048.1 551 Z" fill="#000" fill-opacity="1" filter="url(#b15)"/>
<rect x="1102" y="440.8" width="32" height="6" rx="3" fill="#000" fill-opacity="0.75" filter="url(#b2)"/>
<rect x="1105" y="448" width="26" height="4" rx="2" fill="#000" fill-opacity="0.25" filter="url(#b2)"/>
<path d="M1132.4 452.5 L1138.4 454.5 L1142.2 458 L1143.3 465 L1143.2 472 L1142.4 477 L1139.9 480.5 L1139.4 482.5 L1140.9 485 L1141.1 490 L1139.9 494 L1136.4 497 L1130.4 498.5 L1123.4 499.5 L1113.4 499.5 L1106.4 498.5 L1100.4 497 L1096.9 494 L1095.7 490 L1095.9 485 L1097.4 482.5 L1096.9 480.5 L1094.4 477 L1093.6 472 L1093.5 465 L1094.6 458 L1098.4 454.5 L1104.4 452.5 Z" fill="#000" fill-opacity="1" filter="url(#b15)"/>
<rect x="1101.1" y="508.4" width="37" height="6" rx="3" fill="#000" fill-opacity="0.92" filter="url(#b15)"/>
<ellipse cx="1114.4" cy="517" rx="5" ry="3" fill="#000" fill-opacity="0.35" filter="url(#b15)"/>
<rect x="1101.4" y="535.1" width="36" height="9" rx="4.5" fill="#000" fill-opacity="0.93" filter="url(#b15)"/>
<rect x="1109.4" y="543" width="10" height="10" rx="5" fill="#000" fill-opacity="0.45" filter="url(#b2)"/>
<ellipse cx="1114.4" cy="563" rx="4" ry="1.8" fill="#000" fill-opacity="0.2" filter="url(#b1)"/>
<ellipse cx="1114.4" cy="571" rx="4" ry="1.8" fill="#000" fill-opacity="0.2" filter="url(#b1)"/>
<ellipse cx="1115" cy="590.5" rx="8" ry="2" fill="#000" fill-opacity="0.5" filter="url(#b1)"/>
<rect x="1157" y="459.8" width="39" height="9" rx="4.5" fill="#000" fill-opacity="0.93" filter="url(#b15)"/>
<ellipse cx="1163" cy="464" rx="6" ry="4" fill="#000" fill-opacity="0.5" filter="url(#b1)"/>
</g>
<rect x="967" y="256.3" width="357.8" height="100" fill="none" stroke="#000" stroke-width="2.3"/>
<rect x="967" y="362.6" width="357.8" height="59.3" fill="none" stroke="#000" stroke-width="2.3"/>
<rect x="967" y="428.4" width="357.8" height="191.5" fill="none" stroke="#000" stroke-width="2.3"/>
<text x="1080.06" y="467.14" font-size="28.57" textLength="9.87" lengthAdjust="spacingAndGlyphs">*</text>
<line x1="952.8" y1="292.3" x2="967" y2="292.3" stroke="#000" stroke-width="4.4" stroke-linecap="butt"/>
<text x="914.37" y="300.99" font-size="20.64" textLength="34.12" lengthAdjust="spacingAndGlyphs">190</text>
<line x1="952.8" y1="319" x2="967" y2="319" stroke="#000" stroke-width="4.4" stroke-linecap="butt"/>
<text x="914.38" y="328.49" font-size="21.06" textLength="33.85" lengthAdjust="spacingAndGlyphs">135</text>
<line x1="952.8" y1="347" x2="967" y2="347" stroke="#000" stroke-width="4.4" stroke-linecap="butt"/>
<text x="914.37" y="355.69" font-size="21.06" textLength="34.12" lengthAdjust="spacingAndGlyphs">100</text>
<line x1="956" y1="364.7" x2="967" y2="364.7" stroke="#000" stroke-width="4.4" stroke-linecap="butt"/>
<text x="929.22" y="371.19" font-size="20.5" textLength="21.81" lengthAdjust="spacingAndGlyphs">75</text>
<line x1="953.3" y1="439.2" x2="967" y2="439.2" stroke="#000" stroke-width="4.4" stroke-linecap="butt"/>
<text x="919.93" y="446.5" font-size="20.49" textLength="32.73" lengthAdjust="spacingAndGlyphs">150</text>
<line x1="953.3" y1="476.7" x2="967" y2="476.7" stroke="#000" stroke-width="4.4" stroke-linecap="butt"/>
<text x="919.93" y="484.5" font-size="19.93" textLength="32.73" lengthAdjust="spacingAndGlyphs">100</text>
<line x1="953.3" y1="510.2" x2="967" y2="510.2" stroke="#000" stroke-width="4.4" stroke-linecap="butt"/>
<text x="931.23" y="517.69" font-size="20.79" textLength="21.48" lengthAdjust="spacingAndGlyphs">75</text>
<line x1="953.3" y1="585.9" x2="967" y2="585.9" stroke="#000" stroke-width="4.4" stroke-linecap="butt"/>
<text x="931.42" y="593.69" font-size="20.64" textLength="21.65" lengthAdjust="spacingAndGlyphs">50</text>
<text x="993.48" y="642" font-size="19.64">1</text>
<text x="1052.93" y="642" font-size="19.35">2</text>
<text x="1112.55" y="641.81" font-size="19.08">3</text>
<text x="1169.8" y="642" font-size="19.64">4</text>
<text x="1228.13" y="641.81" font-size="19.35">5</text>
<text x="1283.43" y="641.81" font-size="19.08">6</text>
<text x="1332.71" y="327" font-size="33.45" textLength="133.87" lengthAdjust="spacingAndGlyphs">α- SETD2</text>
<text x="1333.73" y="403.8" font-size="33.45" textLength="168.35" lengthAdjust="spacingAndGlyphs">α- hnRNP L</text>
<text x="1331.62" y="523.7" font-size="34.04" textLength="83.78" lengthAdjust="spacingAndGlyphs">α- HA</text>
<text x="836.89" y="704.51" font-size="48.98" font-weight="bold" textLength="32.3" lengthAdjust="spacingAndGlyphs">d</text>
<text x="956.41" y="753.8" font-size="32.15" textLength="372.67" lengthAdjust="spacingAndGlyphs">Halo-SETD2C purification</text>
<path d="M1042.1 779.3 L1042.1 768.7 L1220.6 768.7 L1220.6 779.3" fill="none" stroke="#000" stroke-width="4.8" stroke-linejoin="round" stroke-linecap="butt"/>
<text x="1042.14" y="850" font-size="30.25" textLength="48.96" lengthAdjust="spacingAndGlyphs">WT</text>
<text x="1134.78" y="849.6" font-size="31.94" textLength="69.97" lengthAdjust="spacingAndGlyphs" transform="rotate(-90 1134.78 849.6)">ΔSHI</text>
<text x="1157.95" y="808.4" font-size="32.15" textLength="117.84" lengthAdjust="spacingAndGlyphs">Leu-Leu</text>
<text x="1157.6" y="851.3" font-size="32.15" textLength="111.16" lengthAdjust="spacingAndGlyphs">Mutant</text>
<text x="970.82" y="847.4" font-size="19.2" textLength="33.75" lengthAdjust="spacingAndGlyphs">kDa</text>
<clipPath id="cgel"><rect x="1008.5" y="857" width="227.9" height="425.6"/></clipPath><g clip-path="url(#cgel)">
<rect x="1008.5" y="857" width="227.9" height="425.6" fill="#f6f0df"/>
<rect x="1011" y="861.5" width="18" height="9" rx="4.5" fill="#dfe2e6" fill-opacity="0.9" filter="url(#b3)"/>
<rect x="1011" y="873.5" width="18" height="9" rx="4.5" fill="#e6e4e8" fill-opacity="0.9" filter="url(#b3)"/>
<rect x="1011" y="901.5" width="18" height="9" rx="4.5" fill="#e2e4ea" fill-opacity="0.9" filter="url(#b3)"/>
<rect x="1011" y="952.5" width="18" height="9" rx="4.5" fill="#dfe4ea" fill-opacity="0.9" filter="url(#b3)"/>
<rect x="1011" y="988.5" width="18" height="9" rx="4.5" fill="#ead8e0" fill-opacity="0.9" filter="url(#b3)"/>
<rect x="1011" y="995.5" width="18" height="9" rx="4.5" fill="#eddce2" fill-opacity="0.9" filter="url(#b3)"/>
<rect x="1011" y="1099.5" width="18" height="9" rx="4.5" fill="#e2e4ec" fill-opacity="0.9" filter="url(#b3)"/>
<rect x="1011" y="1176.5" width="18" height="9" rx="4.5" fill="#e0e3e8" fill-opacity="0.9" filter="url(#b3)"/>
<rect x="1011" y="1193.5" width="18" height="9" rx="4.5" fill="#e6e2da" fill-opacity="0.9" filter="url(#b3)"/>
<rect x="1011" y="1261.5" width="18" height="9" rx="4.5" fill="#f0dcdc" fill-opacity="0.9" filter="url(#b3)"/>
<rect x="1041.3" y="875" width="47" height="400" rx="2" fill="#e9d7b2" fill-opacity="0.75" filter="url(#b3)"/>
<rect x="1042.8" y="865" width="44" height="30" rx="2" fill="#efe3c8" fill-opacity="0.6" filter="url(#b3)"/>
<rect x="1104.7" y="875" width="47" height="400" rx="2" fill="#eee2c8" fill-opacity="0.6" filter="url(#b3)"/>
<rect x="1168.7" y="875" width="47" height="400" rx="2" fill="#efe4cc" fill-opacity="0.55" filter="url(#b3)"/>
<rect x="1042" y="896" width="46" height="9" rx="1.5" fill="#d4a650" fill-opacity="1" filter="url(#b1)"/>
<rect x="1042" y="909" width="46" height="6" rx="1.5" fill="#e4c88c" fill-opacity="0.6" filter="url(#b15)"/>
<rect x="1042" y="919" width="46" height="6" rx="1.5" fill="#ddb660" fill-opacity="0.85" filter="url(#b15)"/>
<rect x="1042" y="926" width="46" height="5" rx="1.5" fill="#dcb468" fill-opacity="0.8" filter="url(#b15)"/>
<rect x="1042" y="936.7" width="46" height="8" rx="1.5" fill="#d8ae60" fill-opacity="0.85" filter="url(#b15)"/>
<rect x="1042" y="948.5" width="46" height="5" rx="1.5" fill="#e6cc94" fill-opacity="0.55" filter="url(#b2)"/>
<rect x="1042" y="955" width="46" height="9" rx="1.5" fill="#e3c686" fill-opacity="0.7" filter="url(#b2)"/>
<rect x="1042" y="966.5" width="46" height="5" rx="1.5" fill="#e8d2a4" fill-opacity="0.55" filter="url(#b2)"/>
<rect x="1042" y="976" width="46" height="4" rx="1.5" fill="#e8d4aa" fill-opacity="0.5" filter="url(#b2)"/>
<rect x="1042" y="995" width="46" height="4" rx="1.5" fill="#e6d2aa" fill-opacity="0.45" filter="url(#b2)"/>
<rect x="1042" y="1017" width="46" height="4" rx="1.5" fill="#e2cca2" fill-opacity="0.5" filter="url(#b15)"/>
<rect x="1042" y="1028" width="46" height="4" rx="1.5" fill="#e2cca2" fill-opacity="0.5" filter="url(#b15)"/>
<rect x="1042" y="1039" width="46" height="4" rx="1.5" fill="#e4d0a8" fill-opacity="0.45" filter="url(#b15)"/>
<rect x="1042" y="1055.5" width="46" height="5" rx="1.5" fill="#cfa464" fill-opacity="0.9" filter="url(#b1)"/>
<rect x="1042" y="1068.5" width="46" height="7" rx="1.5" fill="#e6d0a6" fill-opacity="0.5" filter="url(#b2)"/>
<rect x="1042" y="1079.6" width="46" height="4" rx="1.5" fill="#e4ceaa" fill-opacity="0.45" filter="url(#b15)"/>
<rect x="1042" y="1098.4" width="46" height="4" rx="1.5" fill="#e6d2ae" fill-opacity="0.45" filter="url(#b15)"/>
<rect x="1042" y="1106" width="46" height="4" rx="1.5" fill="#e4cea8" fill-opacity="0.5" filter="url(#b15)"/>
<rect x="1042" y="1123.1" width="46" height="5" rx="1.5" fill="#d4aa6a" fill-opacity="0.85" filter="url(#b1)"/>
<rect x="1042" y="1143.1" width="46" height="5" rx="1.5" fill="#d2ac78" fill-opacity="0.8" filter="url(#b1)"/>
<rect x="1042" y="1158" width="46" height="4" rx="1.5" fill="#e8d6b6" fill-opacity="0.4" filter="url(#b2)"/>
<rect x="1042" y="1190.8" width="46" height="5" rx="1.5" fill="#d6b484" fill-opacity="0.85" filter="url(#b1)"/>
<rect x="1042" y="1205.3" width="46" height="4" rx="1.5" fill="#e8d4b0" fill-opacity="0.5" filter="url(#b15)"/>
<rect x="1042" y="1230" width="46" height="5" rx="1.5" fill="#dcb060" fill-opacity="0.85" filter="url(#b15)"/>
<rect x="1042" y="1236.5" width="46" height="5" rx="1.5" fill="#dcb060" fill-opacity="0.8" filter="url(#b15)"/>
<rect x="1042" y="1264.8" width="46" height="4" rx="1.5" fill="#e6c698" fill-opacity="0.6" filter="url(#b15)"/>
<rect x="1042" y="1272.7" width="46" height="5" rx="1.5" fill="#dcae6a" fill-opacity="0.8" filter="url(#b15)"/>
<rect x="1038.1" y="1251.25" width="53" height="11.5" rx="5" fill="#d8982c" fill-opacity="1" filter="url(#b2)"/>
<rect x="1044" y="1253.5" width="36" height="7" rx="3.5" fill="#cc7e14" fill-opacity="0.8" filter="url(#b2)"/>
<rect x="1106.2" y="903.5" width="44" height="5" rx="2.5" fill="#eadaa4" fill-opacity="0.6" filter="url(#b15)"/>
<rect x="1104.2" y="910" width="48" height="11" rx="2.5" fill="#dca834" fill-opacity="1" filter="url(#b1)"/>
<rect x="1105.2" y="926.5" width="46" height="7" rx="2.5" fill="#efdcc0" fill-opacity="0.6" filter="url(#b2)"/>
<rect x="1104.7" y="945" width="47" height="10" rx="2.5" fill="#e8c870" fill-opacity="0.9" filter="url(#b2)"/>
<rect x="1104.7" y="956.5" width="47" height="9" rx="2.5" fill="#e9cc78" fill-opacity="0.85" filter="url(#b2)"/>
<rect x="1105.2" y="1022.1" width="46" height="3" rx="2.5" fill="#e0d6c8" fill-opacity="0.7" filter="url(#b1)"/>
<rect x="1105.2" y="1030" width="46" height="3" rx="2.5" fill="#e2d8ca" fill-opacity="0.7" filter="url(#b1)"/>
<rect x="1105.2" y="1072" width="46" height="10" rx="2.5" fill="#ebdcc6" fill-opacity="0.6" filter="url(#b2)"/>
<rect x="1105.2" y="1203" width="46" height="10" rx="2.5" fill="#ece2cc" fill-opacity="0.6" filter="url(#b2)"/>
<rect x="1103.3" y="1251" width="55" height="11" rx="5.5" fill="#dea624" fill-opacity="1" filter="url(#b2)"/>
<rect x="1168.7" y="895.25" width="47" height="7.5" rx="2.5" fill="#e2c274" fill-opacity="0.95" filter="url(#b15)"/>
<rect x="1170.2" y="908.5" width="44" height="5" rx="2.5" fill="#eeddb4" fill-opacity="0.55" filter="url(#b15)"/>
<rect x="1168.7" y="918.6" width="47" height="10" rx="2.5" fill="#e7cd88" fill-opacity="0.85" filter="url(#b2)"/>
<rect x="1168.7" y="933" width="47" height="10" rx="2.5" fill="#e7d094" fill-opacity="0.8" filter="url(#b2)"/>
<rect x="1170.2" y="953" width="44" height="10" rx="2.5" fill="#eedfc8" fill-opacity="0.6" filter="url(#b2)"/>
<rect x="1169.2" y="1022.1" width="46" height="3" rx="2.5" fill="#e2d8ca" fill-opacity="0.7" filter="url(#b1)"/>
<rect x="1169.2" y="1030" width="46" height="3" rx="2.5" fill="#e2d8ca" fill-opacity="0.7" filter="url(#b1)"/>
<rect x="1169.2" y="1071" width="46" height="12" rx="2.5" fill="#ebdccc" fill-opacity="0.6" filter="url(#b2)"/>
<rect x="1169.2" y="1203" width="46" height="10" rx="2.5" fill="#ece2cc" fill-opacity="0.6" filter="url(#b2)"/>
<rect x="1169.9" y="1251" width="59" height="11" rx="5.5" fill="#e0a826" fill-opacity="1" filter="url(#b2)"/>
<ellipse cx="1026.5" cy="897.4" rx="1.8" ry="1.3" fill="#3a3020" fill-opacity="0.75" filter="url(#b05)"/>
<ellipse cx="1027.8" cy="891.6" rx="1" ry="1" fill="#3a3020" fill-opacity="0.4" filter="url(#b05)"/>
<ellipse cx="1053.8" cy="871.8" rx="1" ry="0.8" fill="#3a3020" fill-opacity="0.35" filter="url(#b05)"/>
<ellipse cx="1083.2" cy="1106.4" rx="0.9" ry="0.9" fill="#3a3020" fill-opacity="0.5" filter="url(#b05)"/>
<ellipse cx="1101.6" cy="1090.4" rx="0.8" ry="0.8" fill="#3a3020" fill-opacity="0.4" filter="url(#b05)"/>
<ellipse cx="1104.5" cy="1224" rx="2" ry="0.9" fill="#3a3020" fill-opacity="0.5" filter="url(#b05)"/>
<ellipse cx="1162.4" cy="1199.2" rx="0.9" ry="0.9" fill="#3a3020" fill-opacity="0.4" filter="url(#b05)"/>
<ellipse cx="1146" cy="1018" rx="0.8" ry="0.8" fill="#3a3020" fill-opacity="0.4" filter="url(#b05)"/>
<ellipse cx="1232" cy="979" rx="0.8" ry="0.8" fill="#3a3020" fill-opacity="0.35" filter="url(#b05)"/>
</g>
<rect x="1008.5" y="857" width="227.9" height="425.6" fill="none" stroke="#000" stroke-width="2.4"/>
<line x1="995" y1="866.9" x2="1008.5" y2="866.9" stroke="#000" stroke-width="4.4" stroke-linecap="butt"/>
<text x="957.99" y="875.2" font-size="19.93" textLength="33.79" lengthAdjust="spacingAndGlyphs">250</text>
<line x1="995" y1="906.3" x2="1008.5" y2="906.3" stroke="#000" stroke-width="4.4" stroke-linecap="butt"/>
<text x="958.09" y="913.59" font-size="20.64" textLength="33.69" lengthAdjust="spacingAndGlyphs">150</text>
<line x1="995" y1="957.5" x2="1008.5" y2="957.5" stroke="#000" stroke-width="4.4" stroke-linecap="butt"/>
<text x="958.09" y="965.2" font-size="19.93" textLength="33.69" lengthAdjust="spacingAndGlyphs">100</text>
<line x1="995" y1="993.8" x2="1008.5" y2="993.8" stroke="#000" stroke-width="4.4" stroke-linecap="butt"/>
<text x="969.84" y="1002.29" font-size="20.93" textLength="21.37" lengthAdjust="spacingAndGlyphs">75</text>
<line x1="995.2" y1="1104.3" x2="1008.5" y2="1104.3" stroke="#000" stroke-width="4.4" stroke-linecap="butt"/>
<text x="969.18" y="1112.21" font-size="19.08" textLength="22.84" lengthAdjust="spacingAndGlyphs">50</text>
<line x1="995.2" y1="1181.4" x2="1008.5" y2="1181.4" stroke="#000" stroke-width="4.4" stroke-linecap="butt"/>
<text x="969.25" y="1189.8" font-size="19.93" textLength="22.3" lengthAdjust="spacingAndGlyphs">37</text>
<line x1="995.2" y1="1266.9" x2="1008.5" y2="1266.9" stroke="#000" stroke-width="4.4" stroke-linecap="butt"/>
<text x="969.18" y="1275.7" font-size="19.79" textLength="22.68" lengthAdjust="spacingAndGlyphs">25</text>
<text x="1058.45" y="1302.8" font-size="20.07">1</text>
<text x="1123.61" y="1302.8" font-size="19.78">2</text>
<text x="1192.44" y="1302.6" font-size="19.51">3</text>
<text x="1242.4" y="907.3" font-size="34.04" textLength="93.27" lengthAdjust="spacingAndGlyphs">SETD2</text>
<path d="M1237.2 1057.1 L1254.7 1048 L1254.7 1066.2 Z" fill="#000"/>
<text x="1258.41" y="1067.5" font-size="33.16" textLength="126.27" lengthAdjust="spacingAndGlyphs">hnRNP L</text>
<text x="1267.74" y="1111.34" font-size="33.57" textLength="38.33" lengthAdjust="spacingAndGlyphs">(?)</text>
<text x="1241.93" y="1268" font-size="33.75" textLength="92.6" lengthAdjust="spacingAndGlyphs">AcTEV</text>
<text x="830.09" y="1395.93" font-size="47.49" font-weight="bold" textLength="28.01" lengthAdjust="spacingAndGlyphs">e</text>
<text x="1141.2" y="1428.7" font-size="30.55" textLength="192.35" lengthAdjust="spacingAndGlyphs">Halo-SETD2C</text>
<text x="970.09" y="1465.4" font-size="30.55" textLength="166.24" lengthAdjust="spacingAndGlyphs">0.5 % Input</text>
<text x="1150.95" y="1471" font-size="30.25" textLength="171.08" lengthAdjust="spacingAndGlyphs">Purification</text>
<path d="M996.6 1491.3 L996.6 1479 L1148.1 1479 L1148.1 1491.3" fill="none" stroke="#000" stroke-width="4.8" stroke-linejoin="round" stroke-linecap="butt"/>
<path d="M1157 1490.5 L1157 1479 L1318.6 1479 L1318.6 1490.5" fill="none" stroke="#000" stroke-width="4.8" stroke-linejoin="round" stroke-linecap="butt"/>
<text x="1024" y="1623.76" font-size="33.02" textLength="50.18" lengthAdjust="spacingAndGlyphs" transform="rotate(-90 1024 1623.76)">WT</text>
<text x="1071.28" y="1621.1" font-size="32.08" textLength="69.97" lengthAdjust="spacingAndGlyphs" transform="rotate(-90 1071.28 1621.1)">ΔSHI</text>
<text x="1104.67" y="1620.62" font-size="33.26" textLength="116.38" lengthAdjust="spacingAndGlyphs" transform="rotate(-90 1104.67 1620.62)">Leu-Leu</text>
<text x="1148.87" y="1621.01" font-size="33.26" textLength="111.57" lengthAdjust="spacingAndGlyphs" transform="rotate(-90 1148.87 1621.01)">Mutant</text>
<text x="1184.8" y="1624.16" font-size="33.16" textLength="50.08" lengthAdjust="spacingAndGlyphs" transform="rotate(-90 1184.8 1624.16)">WT</text>
<text x="1230.07" y="1621.3" font-size="32.51" textLength="70.29" lengthAdjust="spacingAndGlyphs" transform="rotate(-90 1230.07 1621.3)">ΔSHI</text>
<text x="1275.66" y="1621.21" font-size="33.55" textLength="116.27" lengthAdjust="spacingAndGlyphs" transform="rotate(-90 1275.66 1621.21)">Leu-Leu</text>
<text x="1320.06" y="1621.62" font-size="33.55" textLength="111.88" lengthAdjust="spacingAndGlyphs" transform="rotate(-90 1320.06 1621.62)">Mutant</text>
<text x="938.63" y="1624.5" font-size="18.91" textLength="33.54" lengthAdjust="spacingAndGlyphs">kDa</text>
<rect x="989.4" y="1629.2" width="307.5" height="57" fill="#f3f3f3"/>
<rect x="989.4" y="1692.7" width="307.5" height="92.7" fill="#f3f3f3"/>
<rect x="989.4" y="1793.7" width="307.5" height="57.3" fill="#f3f3f3"/>
<clipPath id="ce1"><rect x="989.4" y="1629.2" width="307.5" height="57"/></clipPath><g clip-path="url(#ce1)">
<rect x="1005" y="1660.4" width="30" height="20" rx="10" fill="#000" fill-opacity="0.18" filter="url(#b3)"/>
<rect x="1002" y="1652.8" width="36" height="16" rx="6.15" fill="#000" fill-opacity="1" filter="url(#b15)"/>
<rect x="1052" y="1659.9" width="32.6" height="20" rx="10" fill="#000" fill-opacity="0.18" filter="url(#b3)"/>
<rect x="1049" y="1652.3" width="38.6" height="16" rx="6.15" fill="#000" fill-opacity="1" filter="url(#b15)"/>
<rect x="1102.25" y="1661.1" width="31.3" height="20" rx="10" fill="#000" fill-opacity="0.18" filter="url(#b3)"/>
<rect x="1099.25" y="1653.5" width="37.3" height="16" rx="6.15" fill="#000" fill-opacity="1" filter="url(#b15)"/>
<rect x="1154.3" y="1655" width="29" height="16" rx="8" fill="#000" fill-opacity="0.1" filter="url(#b3)"/>
<rect x="1151.3" y="1649.8" width="35" height="12" rx="4.62" fill="#000" fill-opacity="0.95" filter="url(#b15)"/>
<rect x="1202.95" y="1652.43" width="29.5" height="15.3" rx="7.65" fill="#000" fill-opacity="0.1" filter="url(#b3)"/>
<rect x="1199.95" y="1647.65" width="35.5" height="11.3" rx="4.35" fill="#000" fill-opacity="0.97" filter="url(#b15)"/>
<rect x="1253.6" y="1651.52" width="28" height="12.2" rx="6.1" fill="#000" fill-opacity="0.1" filter="url(#b3)"/>
<rect x="1250.6" y="1648.6" width="34" height="8.2" rx="3.15" fill="#000" fill-opacity="0.9" filter="url(#b15)"/>
</g>
<clipPath id="ce2"><rect x="989.4" y="1692.7" width="307.5" height="92.7"/></clipPath><g clip-path="url(#ce2)">
<rect x="1000" y="1707.3" width="34" height="6" rx="3" fill="#000" fill-opacity="0.95" filter="url(#b1)"/>
<rect x="1000" y="1720.1" width="34" height="8" rx="4" fill="#000" fill-opacity="0.95" filter="url(#b15)"/>
<rect x="1001" y="1728.2" width="32" height="6" rx="3" fill="#000" fill-opacity="0.85" filter="url(#b15)"/>
<rect x="1004" y="1737.3" width="26" height="4" rx="2" fill="#000" fill-opacity="0.2" filter="url(#b2)"/>
<rect x="1050.2" y="1714.3" width="34" height="7" rx="3.5" fill="#000" fill-opacity="0.95" filter="url(#b1)"/>
<rect x="1050.2" y="1733.6" width="34" height="9" rx="4.5" fill="#000" fill-opacity="0.95" filter="url(#b15)"/>
<rect x="1101" y="1706" width="33" height="6" rx="3" fill="#000" fill-opacity="0.95" filter="url(#b1)"/>
<rect x="1102" y="1720.4" width="31" height="5" rx="2.5" fill="#000" fill-opacity="0.65" filter="url(#b15)"/>
<rect x="1103.5" y="1728.5" width="28" height="4" rx="2" fill="#000" fill-opacity="0.3" filter="url(#b15)"/>
<rect x="1107.5" y="1754.5" width="20" height="3" rx="1.5" fill="#000" fill-opacity="0.12" filter="url(#b15)"/>
<rect x="1149.1" y="1715" width="38" height="10" rx="5" fill="#000" fill-opacity="0.55" filter="url(#b3)"/>
<rect x="1147.85" y="1722" width="40.5" height="56" rx="6" fill="#000" fill-opacity="1" filter="url(#b2)"/>
<rect x="1150.1" y="1770" width="36" height="12" rx="6" fill="#000" fill-opacity="0.85" filter="url(#b3)"/>
<rect x="1200.2" y="1728" width="36" height="10" rx="5" fill="#000" fill-opacity="0.4" filter="url(#b3)"/>
<rect x="1198.7" y="1738.1" width="39" height="10" rx="5" fill="#000" fill-opacity="0.97" filter="url(#b15)"/>
<rect x="1201.2" y="1756" width="34" height="8" rx="4" fill="#000" fill-opacity="0.25" filter="url(#b3)"/>
<rect x="1200.2" y="1768.5" width="36" height="10" rx="5" fill="#000" fill-opacity="0.6" filter="url(#b2)"/>
<rect x="1252.1" y="1713" width="36" height="10" rx="5" fill="#000" fill-opacity="0.3" filter="url(#b3)"/>
<rect x="1250.6" y="1726.7" width="39" height="10" rx="5" fill="#000" fill-opacity="0.95" filter="url(#b15)"/>
<rect x="1251.1" y="1738" width="38" height="8" rx="4" fill="#000" fill-opacity="0.6" filter="url(#b2)"/>
<rect x="1250.6" y="1746.3" width="39" height="14" rx="7" fill="#000" fill-opacity="1" filter="url(#b15)"/>
<rect x="1251.1" y="1763.5" width="38" height="10" rx="5" fill="#000" fill-opacity="0.95" filter="url(#b15)"/>
<rect x="1150" y="1780.5" width="146" height="2.4" fill="#ffffff" fill-opacity="0.85"/>
<ellipse cx="1101" cy="1782" rx="1.5" ry="1.5" fill="#000" fill-opacity="0.8" filter="url(#b05)"/>
</g>
<clipPath id="ce3"><rect x="989.4" y="1793.7" width="307.5" height="57.3"/></clipPath><g clip-path="url(#ce3)">
<rect x="995.4" y="1822.5" width="37.2" height="11" rx="5.5" fill="#000" fill-opacity="1" filter="url(#b15)"/>
<rect x="1045.35" y="1821" width="36.7" height="11" rx="5.5" fill="#000" fill-opacity="1" filter="url(#b15)"/>
<rect x="1093.35" y="1821" width="39.3" height="11" rx="5.5" fill="#000" fill-opacity="1" filter="url(#b15)"/>
<rect x="1142.85" y="1819" width="40.1" height="11" rx="5.5" fill="#000" fill-opacity="1" filter="url(#b15)"/>
<rect x="999" y="1810.5" width="30" height="5" rx="2.5" fill="#000" fill-opacity="0.18" filter="url(#b15)"/>
<rect x="1048.7" y="1810" width="30" height="5" rx="2.5" fill="#000" fill-opacity="0.25" filter="url(#b15)"/>
<rect x="1097" y="1809.5" width="32" height="5" rx="2.5" fill="#000" fill-opacity="0.35" filter="url(#b15)"/>
<rect x="1145.9" y="1807.8" width="34" height="5" rx="2.5" fill="#000" fill-opacity="0.75" filter="url(#b15)"/>
<ellipse cx="1123" cy="1810.5" rx="3" ry="2.5" fill="#000" fill-opacity="0.7" filter="url(#b1)"/>
</g>
<rect x="989.4" y="1629.2" width="307.5" height="57" fill="none" stroke="#000" stroke-width="2.2"/>
<rect x="989.4" y="1692.7" width="307.5" height="92.7" fill="none" stroke="#000" stroke-width="2.2"/>
<rect x="989.4" y="1793.7" width="307.5" height="57.3" fill="none" stroke="#000" stroke-width="2.2"/>
<line x1="976.4" y1="1631.8" x2="989.4" y2="1631.8" stroke="#000" stroke-width="4.4" stroke-linecap="butt"/>
<text x="937.91" y="1643.6" font-size="19.93" textLength="33" lengthAdjust="spacingAndGlyphs">245</text>
<line x1="976.4" y1="1684.6" x2="989.4" y2="1684.6" stroke="#000" stroke-width="4.4" stroke-linecap="butt"/>
<text x="937.92" y="1691.99" font-size="20.64" textLength="32.94" lengthAdjust="spacingAndGlyphs">190</text>
<line x1="976.4" y1="1711.5" x2="989.4" y2="1711.5" stroke="#000" stroke-width="4.4" stroke-linecap="butt"/>
<text x="937.92" y="1720.1" font-size="19.79" textLength="32.94" lengthAdjust="spacingAndGlyphs">190</text>
<line x1="976.4" y1="1739" x2="989.4" y2="1739" stroke="#000" stroke-width="4.4" stroke-linecap="butt"/>
<text x="937.92" y="1747.7" font-size="19.79" textLength="32.99" lengthAdjust="spacingAndGlyphs">135</text>
<line x1="976.4" y1="1771" x2="989.4" y2="1771" stroke="#000" stroke-width="4.4" stroke-linecap="butt"/>
<text x="937.92" y="1779.49" font-size="20.64" textLength="32.94" lengthAdjust="spacingAndGlyphs">100</text>
<line x1="977.4" y1="1793.5" x2="989.4" y2="1793.5" stroke="#000" stroke-width="4.4" stroke-linecap="butt"/>
<text x="950.46" y="1800.09" font-size="20.65" textLength="20.94" lengthAdjust="spacingAndGlyphs">75</text>
<text x="1015.49" y="1874" font-size="18.91">1</text>
<text x="1061.53" y="1874" font-size="18.64">2</text>
<text x="1109.75" y="1873.82" font-size="18.37">3</text>
<text x="1160.5" y="1874" font-size="18.91">4</text>
<text x="1214.33" y="1873.81" font-size="18.64">5</text>
<text x="1268.33" y="1873.82" font-size="18.37">6</text>
<text x="1307.49" y="1646" font-size="33.16" textLength="115.41" lengthAdjust="spacingAndGlyphs">α- Pol II</text>
<text x="1307.3" y="1690.4" font-size="34.18" textLength="86.2" lengthAdjust="spacingAndGlyphs">Ser2P</text>
<text x="1307.41" y="1751.8" font-size="34.04" textLength="134.18" lengthAdjust="spacingAndGlyphs">α- SETD2</text>
<text x="1307.33" y="1837.9" font-size="33.16" textLength="167.95" lengthAdjust="spacingAndGlyphs">α- hnRNP L</text>
</svg>
</body></html>
